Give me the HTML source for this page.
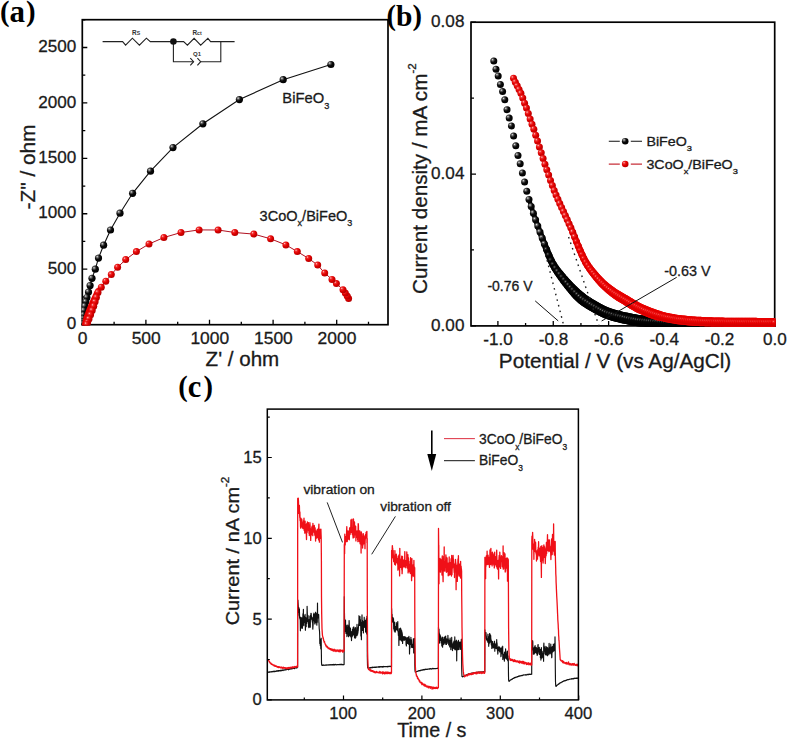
<!DOCTYPE html>
<html><head><meta charset="utf-8"><title>Figure</title>
<style>html,body{margin:0;padding:0;background:#fff;overflow:hidden}svg{display:block}</style>
</head><body>
<svg width="787" height="741" viewBox="0 0 787 741"><defs>
<radialGradient id="gb" cx="0.36" cy="0.34" r="0.7" fx="0.32" fy="0.3">
<stop offset="0" stop-color="#e8e8e8"/><stop offset="0.22" stop-color="#606060"/><stop offset="0.5" stop-color="#0a0a0a"/><stop offset="1" stop-color="#000"/></radialGradient>
<radialGradient id="gr" cx="0.36" cy="0.34" r="0.7" fx="0.32" fy="0.3">
<stop offset="0" stop-color="#ffd0d0"/><stop offset="0.22" stop-color="#f03030"/><stop offset="0.55" stop-color="#e00000"/><stop offset="1" stop-color="#b00000"/></radialGradient>
<radialGradient id="gb2" cx="0.38" cy="0.36" r="0.6" fx="0.34" fy="0.32">
<stop offset="0" stop-color="#8a8a8a"/><stop offset="0.18" stop-color="#303030"/><stop offset="0.45" stop-color="#050505"/><stop offset="1" stop-color="#000"/></radialGradient>
<radialGradient id="gr2" cx="0.38" cy="0.36" r="0.6" fx="0.34" fy="0.32">
<stop offset="0" stop-color="#ff9090"/><stop offset="0.2" stop-color="#f02020"/><stop offset="0.5" stop-color="#e80000"/><stop offset="1" stop-color="#d00000"/></radialGradient>
<clipPath id="ca"><rect x="81.45" y="19.7" width="306.55" height="305.85"/></clipPath>
<clipPath id="cb"><rect x="471" y="22.2" width="304.55000000000007" height="304.55"/></clipPath>
<clipPath id="cc"><rect x="267.3" y="409.1" width="311.09999999999997" height="290.79999999999995"/></clipPath></defs><rect width="787" height="741" fill="#fff"/><rect x="82.3" y="19.7" width="305.7" height="305" fill="none" stroke="#000" stroke-width="1.7"/>
<path d="M82.3 324.6h5M82.3 269.18h5M82.3 213.76h5M82.3 158.34h5M82.3 102.92h5M82.3 47.5h5" stroke="#000" stroke-width="1.3" fill="none"/>
<path d="M82.3 296.89h3M82.3 241.47h3M82.3 186.05h3M82.3 130.63h3M82.3 75.21h3M82.3 19.79h3" stroke="#000" stroke-width="1.3" fill="none"/>
<path d="M82.3 324.7v-5M145.9 324.7v-5M209.5 324.7v-5M273.1 324.7v-5M336.7 324.7v-5" stroke="#000" stroke-width="1.3" fill="none"/>
<path d="M114.1 324.7v-3M177.7 324.7v-3M241.3 324.7v-3M304.9 324.7v-3M368.5 324.7v-3" stroke="#000" stroke-width="1.3" fill="none"/>
<g clip-path="url(#ca)">
<path d="M330.9 64.5 L283.2 79.7 L239.4 99.6 L202.9 123.8 L173 147.6 L150.5 171.2 L132.6 193.3 L120 213.2 L110.5 230 L103.6 245.2 L98.5 258.1 L95.3 269.2 L92 278.3 L90.1 285.6 L88.5 292.1 L86.9 297.5 L85.8 301.8 L84.8 306.2 L84 310.5 L83.3 314.8 L82.9 318.5 L82.6 321.5 L82.5 323.5" fill="none" stroke="#111" stroke-width="1.1"/>
<circle cx="330.9" cy="64.5" r="3.6" fill="url(#gb)"/><circle cx="283.2" cy="79.7" r="3.6" fill="url(#gb)"/><circle cx="239.4" cy="99.6" r="3.6" fill="url(#gb)"/><circle cx="202.9" cy="123.8" r="3.6" fill="url(#gb)"/><circle cx="173" cy="147.6" r="3.6" fill="url(#gb)"/><circle cx="150.5" cy="171.2" r="3.6" fill="url(#gb)"/><circle cx="132.6" cy="193.3" r="3.6" fill="url(#gb)"/><circle cx="120" cy="213.2" r="3.6" fill="url(#gb)"/><circle cx="110.5" cy="230" r="3.6" fill="url(#gb)"/><circle cx="103.6" cy="245.2" r="3.6" fill="url(#gb)"/><circle cx="98.5" cy="258.1" r="3.6" fill="url(#gb)"/><circle cx="95.3" cy="269.2" r="3.6" fill="url(#gb)"/><circle cx="92" cy="278.3" r="3.6" fill="url(#gb)"/><circle cx="90.1" cy="285.6" r="3.6" fill="url(#gb)"/><circle cx="88.5" cy="292.1" r="3.6" fill="url(#gb)"/><circle cx="86.9" cy="297.5" r="3.6" fill="url(#gb)"/><circle cx="85.8" cy="301.8" r="3.6" fill="url(#gb)"/><circle cx="84.8" cy="306.2" r="3.6" fill="url(#gb)"/><circle cx="84" cy="310.5" r="3.6" fill="url(#gb)"/><circle cx="83.3" cy="314.8" r="3.6" fill="url(#gb)"/><circle cx="82.9" cy="318.5" r="3.6" fill="url(#gb)"/><circle cx="82.6" cy="321.5" r="3.6" fill="url(#gb)"/><circle cx="82.5" cy="323.5" r="3.6" fill="url(#gb)"/>
<path d="M98 291L93 301.5L89.3 310L86.5 317.5L84.8 325" stroke="#e80000" stroke-width="6" fill="none" stroke-linecap="round"/>
<path d="M348.6 298.5 L347.2 296 L345.3 293.1 L343 289.7 L336.4 283.6 L332 279.4 L324.7 273.1 L317.7 265.1 L308.7 258.5 L297.3 251.6 L285.9 244.9 L270.6 238.8 L253.8 234.1 L234.8 232.5 L218.1 230 L199.1 229.9 L181 232.5 L163.9 237.5 L149 244 L136.4 251.6 L125.7 259.6 L117.6 267.3 L111.3 274.6 L105.8 281.2 L101.3 287.2 L98 292.5 L96.4 297.4 L95.1 301.8 L93.7 306.2 L92.2 310.5 L90.6 314.8 L89 319 L87.6 322.5 L86.8 324.5" fill="none" stroke="#b01020" stroke-width="1.0"/>
<circle cx="348.6" cy="298.5" r="3.5" fill="url(#gr)"/><circle cx="347.2" cy="296" r="3.5" fill="url(#gr)"/><circle cx="345.3" cy="293.1" r="3.5" fill="url(#gr)"/><circle cx="343" cy="289.7" r="3.5" fill="url(#gr)"/><circle cx="336.4" cy="283.6" r="3.5" fill="url(#gr)"/><circle cx="332" cy="279.4" r="3.5" fill="url(#gr)"/><circle cx="324.7" cy="273.1" r="3.5" fill="url(#gr)"/><circle cx="317.7" cy="265.1" r="3.5" fill="url(#gr)"/><circle cx="308.7" cy="258.5" r="3.5" fill="url(#gr)"/><circle cx="297.3" cy="251.6" r="3.5" fill="url(#gr)"/><circle cx="285.9" cy="244.9" r="3.5" fill="url(#gr)"/><circle cx="270.6" cy="238.8" r="3.5" fill="url(#gr)"/><circle cx="253.8" cy="234.1" r="3.5" fill="url(#gr)"/><circle cx="234.8" cy="232.5" r="3.5" fill="url(#gr)"/><circle cx="218.1" cy="230" r="3.5" fill="url(#gr)"/><circle cx="199.1" cy="229.9" r="3.5" fill="url(#gr)"/><circle cx="181" cy="232.5" r="3.5" fill="url(#gr)"/><circle cx="163.9" cy="237.5" r="3.5" fill="url(#gr)"/><circle cx="149" cy="244" r="3.5" fill="url(#gr)"/><circle cx="136.4" cy="251.6" r="3.5" fill="url(#gr)"/><circle cx="125.7" cy="259.6" r="3.5" fill="url(#gr)"/><circle cx="117.6" cy="267.3" r="3.5" fill="url(#gr)"/><circle cx="111.3" cy="274.6" r="3.5" fill="url(#gr)"/><circle cx="105.8" cy="281.2" r="3.5" fill="url(#gr)"/><circle cx="101.3" cy="287.2" r="3.5" fill="url(#gr)"/><circle cx="98" cy="292.5" r="3.5" fill="url(#gr)"/><circle cx="96.4" cy="297.4" r="3.5" fill="url(#gr)"/><circle cx="95.1" cy="301.8" r="3.5" fill="url(#gr)"/><circle cx="93.7" cy="306.2" r="3.5" fill="url(#gr)"/><circle cx="92.2" cy="310.5" r="3.5" fill="url(#gr)"/><circle cx="90.6" cy="314.8" r="3.5" fill="url(#gr)"/><circle cx="89" cy="319" r="3.5" fill="url(#gr)"/><circle cx="87.6" cy="322.5" r="3.5" fill="url(#gr)"/><circle cx="86.8" cy="324.5" r="3.5" fill="url(#gr)"/>
</g>
<text transform="translate(76.3,329.3) scale(1.0,1)" font-size="17.1" text-anchor="end" style="font-family:'Liberation Sans',sans-serif;font-weight:normal" fill="#1a1a1a" stroke="#1a1a1a" stroke-width="0.3">0</text>
<text transform="translate(76.3,273.88) scale(1.0,1)" font-size="17.1" text-anchor="end" style="font-family:'Liberation Sans',sans-serif;font-weight:normal" fill="#1a1a1a" stroke="#1a1a1a" stroke-width="0.3">500</text>
<text transform="translate(76.3,218.46) scale(1.0,1)" font-size="17.1" text-anchor="end" style="font-family:'Liberation Sans',sans-serif;font-weight:normal" fill="#1a1a1a" stroke="#1a1a1a" stroke-width="0.3">1000</text>
<text transform="translate(76.3,163.04) scale(1.0,1)" font-size="17.1" text-anchor="end" style="font-family:'Liberation Sans',sans-serif;font-weight:normal" fill="#1a1a1a" stroke="#1a1a1a" stroke-width="0.3">1500</text>
<text transform="translate(76.3,107.62) scale(1.0,1)" font-size="17.1" text-anchor="end" style="font-family:'Liberation Sans',sans-serif;font-weight:normal" fill="#1a1a1a" stroke="#1a1a1a" stroke-width="0.3">2000</text>
<text transform="translate(76.3,52.2) scale(1.0,1)" font-size="17.1" text-anchor="end" style="font-family:'Liberation Sans',sans-serif;font-weight:normal" fill="#1a1a1a" stroke="#1a1a1a" stroke-width="0.3">2500</text>
<text transform="translate(82.6,344.3) scale(1.02,1)" font-size="17.1" text-anchor="middle" style="font-family:'Liberation Sans',sans-serif;font-weight:normal" fill="#1a1a1a" stroke="#1a1a1a" stroke-width="0.3">0</text>
<text transform="translate(146.2,344.3) scale(1.02,1)" font-size="17.1" text-anchor="middle" style="font-family:'Liberation Sans',sans-serif;font-weight:normal" fill="#1a1a1a" stroke="#1a1a1a" stroke-width="0.3">500</text>
<text transform="translate(209.8,344.3) scale(1.02,1)" font-size="17.1" text-anchor="middle" style="font-family:'Liberation Sans',sans-serif;font-weight:normal" fill="#1a1a1a" stroke="#1a1a1a" stroke-width="0.3">1000</text>
<text transform="translate(273.4,344.3) scale(1.02,1)" font-size="17.1" text-anchor="middle" style="font-family:'Liberation Sans',sans-serif;font-weight:normal" fill="#1a1a1a" stroke="#1a1a1a" stroke-width="0.3">1500</text>
<text transform="translate(337,344.3) scale(1.02,1)" font-size="17.1" text-anchor="middle" style="font-family:'Liberation Sans',sans-serif;font-weight:normal" fill="#1a1a1a" stroke="#1a1a1a" stroke-width="0.3">2000</text>
<text transform="translate(242.4,365.8) scale(1.05,1)" font-size="19.6" text-anchor="middle" style="font-family:'Liberation Sans',sans-serif;font-weight:normal" fill="#1a1a1a" stroke="#1a1a1a" stroke-width="0.3">Z' / ohm</text>
<text transform="translate(35,167) rotate(-90) scale(1.063,1)" font-size="19.6" text-anchor="middle" style="font-family:'Liberation Sans',sans-serif" fill="#1a1a1a" stroke="#1a1a1a" stroke-width="0.3">-Z" / ohm</text>
<text transform="translate(282.3,103.3) scale(0.985,1)" font-size="15.0" text-anchor="start" style="font-family:'Liberation Sans',sans-serif;font-weight:normal" fill="#1a1a1a" stroke="#1a1a1a" stroke-width="0.3">BiFeO<tspan font-size="9.3" dy="5.5">3</tspan></text>
<text transform="translate(259.6,220.6) scale(0.97,1)" font-size="15.0" text-anchor="start" style="font-family:'Liberation Sans',sans-serif;font-weight:normal" fill="#1a1a1a" stroke="#1a1a1a" stroke-width="0.3">3CoO<tspan font-size="9.3" dy="5.5">x</tspan><tspan dy="-5.5">/BiFeO</tspan><tspan font-size="9.3" dy="5.5">3</tspan></text>
<g stroke="#222" stroke-width="1.1" fill="none">
<path d="M102.6 41.6H122.6L125.6 45.2L132.4 38.2L139.4 45.2L146.4 38.2L150.3 41.6H183.6L187.4 45.2L194.1 38.3L200.7 45.2L207.9 38.3L210.6 41.6H234.6"/>
<path d="M173.4 41.6V61.7H193.6M200.7 61.7H220.8V41.6"/>
<path d="M190.3 58.1L193.6 61.7L190.3 65.4M197.4 58.1L200.7 61.7L197.4 65.4"/>
</g>
<circle cx="173.4" cy="41.5" r="3.3" fill="#111"/>
<text x="132" y="35.3" font-size="6.4" style="font-family:'Liberation Sans',sans-serif;font-weight:bold" fill="#333">R<tspan font-size="5.2">S</tspan></text>
<text x="192.4" y="35.1" font-size="6.4" style="font-family:'Liberation Sans',sans-serif;font-weight:bold" fill="#333">R<tspan font-size="5.2">ct</tspan></text>
<text x="193" y="56.2" font-size="6" style="font-family:'Liberation Sans',sans-serif;font-weight:bold" fill="#333">Q1</text>
<text transform="translate(0,21.5) scale(1.0,1)" font-size="31" text-anchor="start" style="font-family:'Liberation Serif',serif;font-weight:bold" fill="#000"><tspan font-size="28.8" dy="-1">(</tspan><tspan dy="1">a</tspan><tspan font-size="28.8" dy="-1" dx="0.8">)</tspan></text>
<rect x="471" y="22.2" width="303.7" height="303.7" fill="none" stroke="#000" stroke-width="1.7"/>
<path d="M471 325.9h5M471 174.05h5M471 22.2h5" stroke="#000" stroke-width="1.3" fill="none"/>
<path d="M471 249.97h3M471 98.12h3" stroke="#000" stroke-width="1.3" fill="none"/>
<path d="M497.9 325.9v-5M553.26 325.9v-5M608.62 325.9v-5M663.98 325.9v-5M719.34 325.9v-5M774.7 325.9v-5" stroke="#000" stroke-width="1.3" fill="none"/>
<path d="M525.58 325.9v-3M580.94 325.9v-3M636.3 325.9v-3M691.66 325.9v-3M747.02 325.9v-3" stroke="#000" stroke-width="1.3" fill="none"/>
<g clip-path="url(#cb)">
<g stroke="#000" stroke-linecap="round" fill="none"><path d="M529.0 199.4L531.2 206.4" stroke-width="4.3"/><path d="M531.2 206.4L533.4 213.2" stroke-width="4.6"/><path d="M533.4 213.2L535.6 219.8" stroke-width="4.9"/><path d="M535.6 219.8L537.8 226.0" stroke-width="5.2"/><path d="M537.8 226.0L540.0 232.1" stroke-width="5.5"/><path d="M540.0 232.1L542.2 238.1" stroke-width="5.8"/><path d="M542.2 238.1L544.4 244.0" stroke-width="6.1"/><path d="M544.4 244.0L546.6 249.6" stroke-width="6.4"/><path d="M546.6 249.6L548.8 255.1" stroke-width="6.8"/><path d="M548.8 255.1L551.0 260.4" stroke-width="7.1"/><path d="M551.0 260.4L553.2 264.6" stroke-width="7.4"/><path d="M553.2 264.6L555.4 268.2" stroke-width="7.7"/><path d="M555.4 268.2L557.6 271.4" stroke-width="8.0"/><path d="M557.6 271.4L559.8 274.3" stroke-width="8.3"/><path d="M559.8 274.3L562.0 277.2" stroke-width="8.6"/><path d="M562.0 277.2L564.2 280.0" stroke-width="8.9"/><path d="M564.2 280.0L566.4 282.7" stroke-width="9.2"/><path d="M566.4 282.7L568.6 285.2" stroke-width="9.5"/><path d="M568.6 285.2L570.8 287.7" stroke-width="9.8"/><path d="M570.8 287.7L573.0 290.1" stroke-width="10.1"/><path d="M573.0 290.1L575.2 292.4" stroke-width="10.5"/><path d="M575.2 292.4L577.4 294.7" stroke-width="10.8"/><path d="M577.4 294.7L579.6 296.7" stroke-width="11.1"/><path d="M579.6 296.7L581.8 298.5" stroke-width="11.4"/><path d="M581.8 298.5L584.0 300.2" stroke-width="11.5"/><path d="M584.0 300.2L586.2 301.7" stroke-width="11.5"/><path d="M586.2 301.7L588.4 303.1" stroke-width="11.5"/><path d="M588.4 303.1L590.6 304.5" stroke-width="11.5"/><path d="M590.6 304.5L592.8 305.8" stroke-width="11.5"/><path d="M592.8 305.8L595.0 307.0" stroke-width="11.5"/><path d="M595.0 307.0L597.2 308.3" stroke-width="11.5"/><path d="M597.2 308.3L599.4 309.5" stroke-width="11.5"/><path d="M599.4 309.5L601.6 310.6" stroke-width="11.5"/><path d="M601.6 310.6L603.8 311.7" stroke-width="11.5"/><path d="M603.8 311.7L606.0 312.7" stroke-width="11.5"/><path d="M606.0 312.7L608.2 313.5" stroke-width="11.5"/><path d="M608.2 313.5L610.4 314.2" stroke-width="11.5"/><path d="M610.4 314.2L612.6 314.9" stroke-width="11.5"/><path d="M612.6 314.9L614.8 315.6" stroke-width="11.5"/><path d="M614.8 315.6L617.0 316.2" stroke-width="11.5"/><path d="M617.0 316.2L619.2 316.7" stroke-width="11.5"/><path d="M619.2 316.7L621.4 317.3" stroke-width="11.5"/><path d="M621.4 317.3L623.6 317.8" stroke-width="11.5"/><path d="M623.6 317.8L625.8 318.2" stroke-width="11.5"/><path d="M625.8 318.2L628.0 318.7" stroke-width="11.5"/><path d="M628.0 318.7L630.2 319.2" stroke-width="11.5"/><path d="M630.2 319.2L632.4 319.6" stroke-width="11.5"/><path d="M632.4 319.6L634.6 320.0" stroke-width="11.5"/><path d="M634.6 320.0L636.8 320.4" stroke-width="11.5"/><path d="M636.8 320.4L639.0 320.7" stroke-width="11.5"/><path d="M639.0 320.7L641.2 320.9" stroke-width="11.5"/><path d="M641.2 320.9L643.4 321.1" stroke-width="11.5"/><path d="M643.4 321.1L645.6 321.3" stroke-width="11.5"/><path d="M645.6 321.3L647.8 321.5" stroke-width="11.5"/><path d="M647.8 321.5L650.0 321.6" stroke-width="11.5"/><path d="M650.0 321.6L652.2 321.7" stroke-width="11.5"/><path d="M652.2 321.7L654.4 321.8" stroke-width="11.5"/><path d="M654.4 321.8L656.6 322.0" stroke-width="11.5"/><path d="M656.6 322.0L658.8 322.1" stroke-width="11.5"/><path d="M658.8 322.1L661.0 322.2" stroke-width="11.5"/><path d="M661.0 322.2L663.2 322.4" stroke-width="11.5"/><path d="M663.2 322.4L665.4 322.5" stroke-width="11.5"/><path d="M665.4 322.5L667.6 322.7" stroke-width="11.5"/><path d="M667.6 322.7L669.8 322.9" stroke-width="11.5"/><path d="M669.8 322.9L672.0 323.0" stroke-width="11.5"/><path d="M672.0 323.0L674.2 323.2" stroke-width="11.5"/><path d="M674.2 323.2L676.4 323.3" stroke-width="11.5"/><path d="M676.4 323.3L678.6 323.4" stroke-width="11.5"/><path d="M678.6 323.4L680.8 323.5" stroke-width="11.5"/><path d="M680.8 323.5L683.0 323.6" stroke-width="11.5"/><path d="M683.0 323.6L685.2 323.7" stroke-width="11.5"/><path d="M685.2 323.7L687.4 323.8" stroke-width="11.5"/><path d="M687.4 323.8L689.6 323.9" stroke-width="11.5"/><path d="M689.6 323.9L691.8 323.9" stroke-width="11.5"/><path d="M691.8 323.9L694.0 324.0" stroke-width="11.3"/><path d="M694.0 324.0L696.2 324.1" stroke-width="11.2"/><path d="M696.2 324.1L698.4 324.1" stroke-width="11.1"/><path d="M698.4 324.1L700.6 324.2" stroke-width="10.9"/><path d="M700.6 324.2L702.8 324.2" stroke-width="10.8"/><path d="M702.8 324.2L705.0 324.3" stroke-width="10.7"/><path d="M705.0 324.3L707.2 324.3" stroke-width="10.5"/><path d="M707.2 324.3L709.4 324.4" stroke-width="10.4"/><path d="M709.4 324.4L711.6 324.4" stroke-width="10.3"/><path d="M711.6 324.4L713.8 324.5" stroke-width="10.1"/><path d="M713.8 324.5L716.0 324.5" stroke-width="10.0"/><path d="M716.0 324.5L718.2 324.6" stroke-width="9.9"/><path d="M718.2 324.6L720.4 324.6" stroke-width="9.7"/><path d="M720.4 324.6L722.6 324.7" stroke-width="9.6"/><path d="M722.6 324.7L724.8 324.7" stroke-width="9.5"/><path d="M724.8 324.7L727.0 324.7" stroke-width="9.3"/><path d="M727.0 324.7L729.2 324.8" stroke-width="9.2"/><path d="M729.2 324.8L731.4 324.8" stroke-width="9.1"/><path d="M731.4 324.8L733.6 324.9" stroke-width="9.0"/><path d="M733.6 324.9L735.8 324.9" stroke-width="8.8"/><path d="M735.8 324.9L738.0 324.9" stroke-width="8.7"/><path d="M738.0 324.9L740.2 325.0" stroke-width="8.6"/><path d="M740.2 325.0L742.4 325.0" stroke-width="8.5"/><path d="M742.4 325.0L744.6 325.0" stroke-width="8.5"/><path d="M744.6 325.0L746.8 325.1" stroke-width="8.5"/><path d="M746.8 325.1L749.0 325.1" stroke-width="8.5"/><path d="M749.0 325.1L751.2 325.1" stroke-width="8.5"/><path d="M751.2 325.1L753.4 325.2" stroke-width="8.5"/><path d="M753.4 325.2L755.6 325.2" stroke-width="8.5"/><path d="M755.6 325.2L757.8 325.2" stroke-width="8.5"/><path d="M757.8 325.2L760.0 325.3" stroke-width="8.5"/><path d="M760.0 325.3L762.2 325.3" stroke-width="8.5"/><path d="M762.2 325.3L764.4 325.3" stroke-width="8.5"/><path d="M764.4 325.3L766.6 325.3" stroke-width="8.5"/><path d="M766.6 325.3L768.8 325.4" stroke-width="8.5"/><path d="M768.8 325.4L771.0 325.4" stroke-width="8.5"/><path d="M771.0 325.4L773.2 325.4" stroke-width="8.5"/></g>
<circle cx="493.8" cy="61.1" r="3.5" fill="url(#gb)"/><circle cx="496" cy="69.26" r="3.5" fill="url(#gb)"/><circle cx="498.2" cy="75.9" r="3.5" fill="url(#gb)"/><circle cx="500.4" cy="84.5" r="3.5" fill="url(#gb)"/><circle cx="502.6" cy="91.55" r="3.5" fill="url(#gb)"/><circle cx="504.8" cy="99.79" r="3.5" fill="url(#gb)"/><circle cx="507" cy="109.71" r="3.5" fill="url(#gb)"/><circle cx="509.2" cy="118.03" r="3.5" fill="url(#gb)"/><circle cx="511.4" cy="125.91" r="3.5" fill="url(#gb)"/><circle cx="513.6" cy="136.07" r="3.5" fill="url(#gb)"/><circle cx="515.8" cy="145.82" r="3.5" fill="url(#gb)"/><circle cx="518" cy="155.6" r="3.5" fill="url(#gb)"/><circle cx="520.2" cy="163.74" r="3.5" fill="url(#gb)"/><circle cx="522.4" cy="172.98" r="3.5" fill="url(#gb)"/><circle cx="524.6" cy="182.07" r="3.5" fill="url(#gb)"/><circle cx="526.8" cy="191.3" r="3.5" fill="url(#gb)"/><circle cx="529" cy="199.44" r="3.5" fill="url(#gb)"/><circle cx="531.2" cy="206.39" r="3.5" fill="url(#gb)"/><circle cx="533.4" cy="213.2" r="3.5" fill="url(#gb)"/><circle cx="535.6" cy="219.77" r="3.5" fill="url(#gb)"/><circle cx="537.8" cy="226.02" r="3.5" fill="url(#gb)"/><circle cx="540" cy="232.08" r="3.5" fill="url(#gb)"/><circle cx="542.2" cy="238.08" r="3.5" fill="url(#gb)"/><circle cx="544.4" cy="243.97" r="3.5" fill="url(#gb)"/>
<circle cx="546.6" cy="249.6" r="3.5" fill="url(#gb2)"/><circle cx="548.8" cy="255.15" r="3.5" fill="url(#gb2)"/><circle cx="551" cy="260.36" r="3.5" fill="url(#gb2)"/><circle cx="553.2" cy="264.65" r="3.5" fill="url(#gb2)"/><circle cx="555.4" cy="268.21" r="3.5" fill="url(#gb2)"/><circle cx="557.6" cy="271.36" r="3.5" fill="url(#gb2)"/><circle cx="559.8" cy="274.3" r="3.5" fill="url(#gb2)"/><circle cx="562" cy="277.21" r="3.5" fill="url(#gb2)"/><circle cx="564.2" cy="280" r="3.5" fill="url(#gb2)"/><circle cx="566.4" cy="282.68" r="3.5" fill="url(#gb2)"/><circle cx="568.6" cy="285.24" r="3.5" fill="url(#gb2)"/><circle cx="570.8" cy="287.7" r="3.5" fill="url(#gb2)"/><circle cx="573" cy="290.1" r="3.5" fill="url(#gb2)"/><circle cx="575.2" cy="292.45" r="3.5" fill="url(#gb2)"/><circle cx="577.4" cy="294.67" r="3.5" fill="url(#gb2)"/><circle cx="579.6" cy="296.72" r="3.5" fill="url(#gb2)"/><circle cx="581.8" cy="298.53" r="3.5" fill="url(#gb2)"/><circle cx="584" cy="300.18" r="3.5" fill="url(#gb2)"/><circle cx="586.2" cy="301.7" r="3.5" fill="url(#gb2)"/><circle cx="588.4" cy="303.13" r="3.5" fill="url(#gb2)"/><circle cx="590.6" cy="304.47" r="3.5" fill="url(#gb2)"/><circle cx="592.8" cy="305.77" r="3.5" fill="url(#gb2)"/><circle cx="595" cy="307.04" r="3.5" fill="url(#gb2)"/><circle cx="597.2" cy="308.28" r="3.5" fill="url(#gb2)"/><circle cx="599.4" cy="309.49" r="3.5" fill="url(#gb2)"/><circle cx="601.6" cy="310.64" r="3.5" fill="url(#gb2)"/><circle cx="603.8" cy="311.7" r="3.5" fill="url(#gb2)"/><circle cx="606" cy="312.66" r="3.5" fill="url(#gb2)"/><circle cx="608.2" cy="313.49" r="3.5" fill="url(#gb2)"/><circle cx="610.4" cy="314.25" r="3.5" fill="url(#gb2)"/><circle cx="612.6" cy="314.94" r="3.5" fill="url(#gb2)"/><circle cx="614.8" cy="315.59" r="3.5" fill="url(#gb2)"/><circle cx="617" cy="316.18" r="3.5" fill="url(#gb2)"/><circle cx="619.2" cy="316.74" r="3.5" fill="url(#gb2)"/><circle cx="621.4" cy="317.25" r="3.5" fill="url(#gb2)"/><circle cx="623.6" cy="317.75" r="3.5" fill="url(#gb2)"/><circle cx="625.8" cy="318.24" r="3.5" fill="url(#gb2)"/><circle cx="628" cy="318.71" r="3.5" fill="url(#gb2)"/><circle cx="630.2" cy="319.17" r="3.5" fill="url(#gb2)"/><circle cx="632.4" cy="319.6" r="3.5" fill="url(#gb2)"/><circle cx="634.6" cy="319.99" r="3.5" fill="url(#gb2)"/><circle cx="636.8" cy="320.35" r="3.5" fill="url(#gb2)"/><circle cx="639" cy="320.66" r="3.5" fill="url(#gb2)"/><circle cx="641.2" cy="320.92" r="3.5" fill="url(#gb2)"/><circle cx="643.4" cy="321.13" r="3.5" fill="url(#gb2)"/><circle cx="645.6" cy="321.3" r="3.5" fill="url(#gb2)"/><circle cx="647.8" cy="321.46" r="3.5" fill="url(#gb2)"/><circle cx="650" cy="321.6" r="3.5" fill="url(#gb2)"/><circle cx="652.2" cy="321.73" r="3.5" fill="url(#gb2)"/><circle cx="654.4" cy="321.85" r="3.5" fill="url(#gb2)"/><circle cx="656.6" cy="321.96" r="3.5" fill="url(#gb2)"/><circle cx="658.8" cy="322.09" r="3.5" fill="url(#gb2)"/><circle cx="661" cy="322.22" r="3.5" fill="url(#gb2)"/><circle cx="663.2" cy="322.36" r="3.5" fill="url(#gb2)"/><circle cx="665.4" cy="322.52" r="3.5" fill="url(#gb2)"/><circle cx="667.6" cy="322.68" r="3.5" fill="url(#gb2)"/><circle cx="669.8" cy="322.85" r="3.5" fill="url(#gb2)"/><circle cx="672" cy="323.02" r="3.5" fill="url(#gb2)"/><circle cx="674.2" cy="323.17" r="3.5" fill="url(#gb2)"/><circle cx="676.4" cy="323.32" r="3.5" fill="url(#gb2)"/><circle cx="678.6" cy="323.44" r="3.5" fill="url(#gb2)"/><circle cx="680.8" cy="323.53" r="3.5" fill="url(#gb2)"/><circle cx="683" cy="323.62" r="3.5" fill="url(#gb2)"/><circle cx="685.2" cy="323.7" r="3.5" fill="url(#gb2)"/><circle cx="687.4" cy="323.78" r="3.5" fill="url(#gb2)"/><circle cx="689.6" cy="323.86" r="3.5" fill="url(#gb2)"/><circle cx="691.8" cy="323.93" r="3.5" fill="url(#gb2)"/><circle cx="694" cy="323.99" r="3.5" fill="url(#gb2)"/><circle cx="696.2" cy="324.06" r="3.5" fill="url(#gb2)"/><circle cx="698.4" cy="324.12" r="3.5" fill="url(#gb2)"/><circle cx="700.6" cy="324.18" r="3.5" fill="url(#gb2)"/><circle cx="702.8" cy="324.23" r="3.5" fill="url(#gb2)"/><circle cx="705" cy="324.28" r="3.5" fill="url(#gb2)"/><circle cx="707.2" cy="324.33" r="3.5" fill="url(#gb2)"/><circle cx="709.4" cy="324.38" r="3.5" fill="url(#gb2)"/><circle cx="711.6" cy="324.43" r="3.5" fill="url(#gb2)"/><circle cx="713.8" cy="324.48" r="3.5" fill="url(#gb2)"/><circle cx="716" cy="324.52" r="3.5" fill="url(#gb2)"/><circle cx="718.2" cy="324.56" r="3.5" fill="url(#gb2)"/><circle cx="720.4" cy="324.61" r="3.5" fill="url(#gb2)"/><circle cx="722.6" cy="324.65" r="3.5" fill="url(#gb2)"/><circle cx="724.8" cy="324.69" r="3.5" fill="url(#gb2)"/><circle cx="727" cy="324.73" r="3.5" fill="url(#gb2)"/><circle cx="729.2" cy="324.77" r="3.5" fill="url(#gb2)"/><circle cx="731.4" cy="324.81" r="3.5" fill="url(#gb2)"/><circle cx="733.6" cy="324.85" r="3.5" fill="url(#gb2)"/><circle cx="735.8" cy="324.89" r="3.5" fill="url(#gb2)"/><circle cx="738" cy="324.93" r="3.5" fill="url(#gb2)"/><circle cx="740.2" cy="324.97" r="3.5" fill="url(#gb2)"/><circle cx="742.4" cy="325.01" r="3.5" fill="url(#gb2)"/><circle cx="744.6" cy="325.04" r="3.5" fill="url(#gb2)"/><circle cx="746.8" cy="325.08" r="3.5" fill="url(#gb2)"/><circle cx="749" cy="325.11" r="3.5" fill="url(#gb2)"/><circle cx="751.2" cy="325.14" r="3.5" fill="url(#gb2)"/><circle cx="753.4" cy="325.17" r="3.5" fill="url(#gb2)"/><circle cx="755.6" cy="325.2" r="3.5" fill="url(#gb2)"/><circle cx="757.8" cy="325.23" r="3.5" fill="url(#gb2)"/><circle cx="760" cy="325.26" r="3.5" fill="url(#gb2)"/><circle cx="762.2" cy="325.28" r="3.5" fill="url(#gb2)"/><circle cx="764.4" cy="325.31" r="3.5" fill="url(#gb2)"/><circle cx="766.6" cy="325.33" r="3.5" fill="url(#gb2)"/><circle cx="768.8" cy="325.35" r="3.5" fill="url(#gb2)"/><circle cx="771" cy="325.37" r="3.5" fill="url(#gb2)"/><circle cx="773.2" cy="325.39" r="3.5" fill="url(#gb2)"/>
<g stroke="#e80000" stroke-linecap="round" fill="none"><path d="M552.4 185.6L554.2 190.4" stroke-width="4.6"/><path d="M554.2 190.4L556.1 194.9" stroke-width="4.8"/><path d="M556.1 194.9L557.9 199.2" stroke-width="4.9"/><path d="M557.9 199.2L559.8 203.4" stroke-width="5.0"/><path d="M559.8 203.4L561.6 207.5" stroke-width="5.2"/><path d="M561.6 207.5L563.5 211.5" stroke-width="5.3"/><path d="M563.5 211.5L565.3 215.5" stroke-width="5.5"/><path d="M565.3 215.5L567.2 219.6" stroke-width="5.6"/><path d="M567.2 219.6L569.0 223.6" stroke-width="5.8"/><path d="M569.0 223.6L570.9 227.8" stroke-width="5.9"/><path d="M570.9 227.8L572.7 232.2" stroke-width="6.1"/><path d="M572.7 232.2L574.6 236.8" stroke-width="6.2"/><path d="M574.6 236.8L576.4 241.6" stroke-width="6.4"/><path d="M576.4 241.6L578.3 246.1" stroke-width="6.5"/><path d="M578.3 246.1L580.1 250.4" stroke-width="6.7"/><path d="M580.1 250.4L582.0 254.6" stroke-width="6.8"/><path d="M582.0 254.6L583.8 258.6" stroke-width="7.0"/><path d="M583.8 258.6L585.7 262.1" stroke-width="7.1"/><path d="M585.7 262.1L587.5 265.2" stroke-width="7.3"/><path d="M587.5 265.2L589.4 267.9" stroke-width="7.4"/><path d="M589.4 267.9L591.2 270.4" stroke-width="7.6"/><path d="M591.2 270.4L593.1 272.8" stroke-width="7.7"/><path d="M593.1 272.8L594.9 275.0" stroke-width="7.9"/><path d="M594.9 275.0L596.8 277.3" stroke-width="8.0"/><path d="M596.8 277.3L598.6 279.4" stroke-width="8.2"/><path d="M598.6 279.4L600.5 281.4" stroke-width="8.3"/><path d="M600.5 281.4L602.3 283.3" stroke-width="8.5"/><path d="M602.3 283.3L604.2 285.1" stroke-width="8.6"/><path d="M604.2 285.1L606.0 286.7" stroke-width="8.7"/><path d="M606.0 286.7L607.9 288.3" stroke-width="8.9"/><path d="M607.9 288.3L609.7 289.8" stroke-width="9.0"/><path d="M609.7 289.8L611.6 291.2" stroke-width="9.2"/><path d="M611.6 291.2L613.4 292.6" stroke-width="9.3"/><path d="M613.4 292.6L615.3 293.9" stroke-width="9.5"/><path d="M615.3 293.9L617.1 295.1" stroke-width="9.6"/><path d="M617.1 295.1L619.0 296.3" stroke-width="9.8"/><path d="M619.0 296.3L620.8 297.4" stroke-width="9.9"/><path d="M620.8 297.4L622.7 298.5" stroke-width="10.0"/><path d="M622.7 298.5L624.5 299.5" stroke-width="10.0"/><path d="M624.5 299.5L626.4 300.6" stroke-width="10.0"/><path d="M626.4 300.6L628.2 301.8" stroke-width="10.0"/><path d="M628.2 301.8L630.1 302.9" stroke-width="10.0"/><path d="M630.1 302.9L631.9 304.1" stroke-width="10.0"/><path d="M631.9 304.1L633.8 305.2" stroke-width="10.0"/><path d="M633.8 305.2L635.6 306.2" stroke-width="10.0"/><path d="M635.6 306.2L637.5 307.3" stroke-width="10.0"/><path d="M637.5 307.3L639.3 308.2" stroke-width="10.0"/><path d="M639.3 308.2L641.2 309.0" stroke-width="10.0"/><path d="M641.2 309.0L643.0 309.8" stroke-width="10.0"/><path d="M643.0 309.8L644.9 310.6" stroke-width="10.0"/><path d="M644.9 310.6L646.7 311.4" stroke-width="10.0"/><path d="M646.7 311.4L648.6 312.1" stroke-width="10.0"/><path d="M648.6 312.1L650.4 312.9" stroke-width="10.0"/><path d="M650.4 312.9L652.3 313.5" stroke-width="10.0"/><path d="M652.3 313.5L654.1 314.2" stroke-width="10.0"/><path d="M654.1 314.2L656.0 314.8" stroke-width="10.0"/><path d="M656.0 314.8L657.8 315.4" stroke-width="10.0"/><path d="M657.8 315.4L659.7 315.9" stroke-width="10.0"/><path d="M659.7 315.9L661.5 316.4" stroke-width="9.3"/><path d="M661.5 316.4L663.4 316.8" stroke-width="9.3"/><path d="M663.4 316.8L665.2 317.2" stroke-width="9.3"/><path d="M665.2 317.2L667.1 317.6" stroke-width="9.3"/><path d="M667.1 317.6L668.9 318.0" stroke-width="9.3"/><path d="M668.9 318.0L670.8 318.4" stroke-width="9.3"/><path d="M670.8 318.4L672.6 318.7" stroke-width="9.3"/><path d="M672.6 318.7L674.5 319.0" stroke-width="9.3"/><path d="M674.5 319.0L676.3 319.3" stroke-width="9.3"/><path d="M676.3 319.3L678.2 319.6" stroke-width="9.3"/><path d="M678.2 319.6L680.0 319.8" stroke-width="9.3"/><path d="M680.0 319.8L681.9 320.0" stroke-width="9.3"/><path d="M681.9 320.0L683.7 320.2" stroke-width="9.3"/><path d="M683.7 320.2L685.6 320.4" stroke-width="9.3"/><path d="M685.6 320.4L687.4 320.6" stroke-width="9.3"/><path d="M687.4 320.6L689.3 320.8" stroke-width="9.3"/><path d="M689.3 320.8L691.1 320.9" stroke-width="9.3"/><path d="M691.1 320.9L693.0 321.1" stroke-width="9.3"/><path d="M693.0 321.1L694.8 321.2" stroke-width="9.3"/><path d="M694.8 321.2L696.7 321.3" stroke-width="9.3"/><path d="M696.7 321.3L698.5 321.4" stroke-width="9.3"/><path d="M698.5 321.4L700.4 321.5" stroke-width="9.3"/><path d="M700.4 321.5L702.2 321.6" stroke-width="9.3"/><path d="M702.2 321.6L704.1 321.7" stroke-width="9.3"/><path d="M704.1 321.7L705.9 321.8" stroke-width="9.3"/><path d="M705.9 321.8L707.8 321.9" stroke-width="9.3"/><path d="M707.8 321.9L709.6 321.9" stroke-width="9.3"/><path d="M709.6 321.9L711.5 322.0" stroke-width="9.3"/><path d="M711.5 322.0L713.3 322.1" stroke-width="9.3"/><path d="M713.3 322.1L715.2 322.1" stroke-width="9.3"/><path d="M715.2 322.1L717.0 322.1" stroke-width="9.3"/><path d="M717.0 322.1L718.9 322.2" stroke-width="9.3"/><path d="M718.9 322.2L720.7 322.2" stroke-width="9.3"/><path d="M720.7 322.2L722.6 322.2" stroke-width="9.3"/><path d="M722.6 322.2L724.4 322.3" stroke-width="9.3"/><path d="M724.4 322.3L726.3 322.3" stroke-width="9.3"/><path d="M726.3 322.3L728.1 322.3" stroke-width="9.3"/><path d="M728.1 322.3L730.0 322.3" stroke-width="9.3"/><path d="M730.0 322.3L731.8 322.3" stroke-width="9.3"/><path d="M731.8 322.3L733.7 322.4" stroke-width="9.3"/><path d="M733.7 322.4L735.5 322.4" stroke-width="9.3"/><path d="M735.5 322.4L737.4 322.4" stroke-width="9.3"/><path d="M737.4 322.4L739.2 322.4" stroke-width="9.3"/><path d="M739.2 322.4L741.1 322.4" stroke-width="9.3"/><path d="M741.1 322.4L742.9 322.5" stroke-width="9.3"/><path d="M742.9 322.5L744.8 322.5" stroke-width="9.3"/><path d="M744.8 322.5L746.6 322.5" stroke-width="9.3"/><path d="M746.6 322.5L748.5 322.5" stroke-width="9.3"/><path d="M748.5 322.5L750.3 322.5" stroke-width="9.3"/><path d="M750.3 322.5L752.2 322.5" stroke-width="9.3"/><path d="M752.2 322.5L754.0 322.5" stroke-width="9.3"/><path d="M754.0 322.5L755.9 322.5" stroke-width="9.3"/><path d="M755.9 322.5L757.7 322.6" stroke-width="9.3"/><path d="M757.7 322.6L759.6 322.6" stroke-width="9.3"/><path d="M759.6 322.6L761.4 322.6" stroke-width="9.3"/><path d="M761.4 322.6L763.3 322.6" stroke-width="9.3"/><path d="M763.3 322.6L765.1 322.6" stroke-width="9.3"/><path d="M765.1 322.6L767.0 322.6" stroke-width="9.3"/><path d="M767.0 322.6L768.8 322.6" stroke-width="9.3"/><path d="M768.8 322.6L770.7 322.6" stroke-width="9.3"/><path d="M770.7 322.6L772.5 322.6" stroke-width="9.3"/><path d="M772.5 322.6L774.4 322.6" stroke-width="9.3"/></g>
<circle cx="513.5" cy="78.3" r="3.5" fill="url(#gr)"/><circle cx="515.35" cy="82.19" r="3.5" fill="url(#gr)"/><circle cx="517.2" cy="85.83" r="3.5" fill="url(#gr)"/><circle cx="519.05" cy="89.43" r="3.5" fill="url(#gr)"/><circle cx="520.9" cy="93.35" r="3.5" fill="url(#gr)"/><circle cx="522.75" cy="97.93" r="3.5" fill="url(#gr)"/><circle cx="524.6" cy="103.15" r="3.5" fill="url(#gr)"/><circle cx="526.45" cy="108.08" r="3.5" fill="url(#gr)"/><circle cx="528.3" cy="113.48" r="3.5" fill="url(#gr)"/><circle cx="530.15" cy="119.05" r="3.5" fill="url(#gr)"/><circle cx="532" cy="124.25" r="3.5" fill="url(#gr)"/><circle cx="533.85" cy="129.14" r="3.5" fill="url(#gr)"/><circle cx="535.7" cy="135.18" r="3.5" fill="url(#gr)"/><circle cx="537.55" cy="141.06" r="3.5" fill="url(#gr)"/><circle cx="539.4" cy="146.88" r="3.5" fill="url(#gr)"/><circle cx="541.25" cy="152.72" r="3.5" fill="url(#gr)"/><circle cx="543.1" cy="158.57" r="3.5" fill="url(#gr)"/><circle cx="544.95" cy="164.26" r="3.5" fill="url(#gr)"/><circle cx="546.8" cy="169.76" r="3.5" fill="url(#gr)"/><circle cx="548.65" cy="175.12" r="3.5" fill="url(#gr)"/><circle cx="550.5" cy="180.39" r="3.5" fill="url(#gr)"/><circle cx="552.35" cy="185.56" r="3.5" fill="url(#gr)"/><circle cx="554.2" cy="190.42" r="3.5" fill="url(#gr)"/><circle cx="556.05" cy="194.93" r="3.5" fill="url(#gr)"/><circle cx="557.9" cy="199.24" r="3.5" fill="url(#gr)"/><circle cx="559.75" cy="203.44" r="3.5" fill="url(#gr)"/><circle cx="561.6" cy="207.49" r="3.5" fill="url(#gr)"/><circle cx="563.45" cy="211.47" r="3.5" fill="url(#gr)"/><circle cx="565.3" cy="215.5" r="3.5" fill="url(#gr)"/><circle cx="567.15" cy="219.56" r="3.5" fill="url(#gr)"/><circle cx="569" cy="223.63" r="3.5" fill="url(#gr)"/><circle cx="570.85" cy="227.79" r="3.5" fill="url(#gr)"/><circle cx="572.7" cy="232.17" r="3.5" fill="url(#gr)"/><circle cx="574.55" cy="236.84" r="3.5" fill="url(#gr)"/>
<circle cx="576.4" cy="241.58" r="3.5" fill="url(#gr2)"/><circle cx="578.25" cy="246.08" r="3.5" fill="url(#gr2)"/><circle cx="580.1" cy="250.4" r="3.5" fill="url(#gr2)"/><circle cx="581.95" cy="254.64" r="3.5" fill="url(#gr2)"/><circle cx="583.8" cy="258.62" r="3.5" fill="url(#gr2)"/><circle cx="585.65" cy="262.14" r="3.5" fill="url(#gr2)"/><circle cx="587.5" cy="265.17" r="3.5" fill="url(#gr2)"/><circle cx="589.35" cy="267.89" r="3.5" fill="url(#gr2)"/><circle cx="591.2" cy="270.4" r="3.5" fill="url(#gr2)"/><circle cx="593.05" cy="272.76" r="3.5" fill="url(#gr2)"/><circle cx="594.9" cy="275.05" r="3.5" fill="url(#gr2)"/><circle cx="596.75" cy="277.26" r="3.5" fill="url(#gr2)"/><circle cx="598.6" cy="279.37" r="3.5" fill="url(#gr2)"/><circle cx="600.45" cy="281.38" r="3.5" fill="url(#gr2)"/><circle cx="602.3" cy="283.28" r="3.5" fill="url(#gr2)"/><circle cx="604.15" cy="285.05" r="3.5" fill="url(#gr2)"/><circle cx="606" cy="286.72" r="3.5" fill="url(#gr2)"/><circle cx="607.85" cy="288.3" r="3.5" fill="url(#gr2)"/><circle cx="609.7" cy="289.79" r="3.5" fill="url(#gr2)"/><circle cx="611.55" cy="291.21" r="3.5" fill="url(#gr2)"/><circle cx="613.4" cy="292.57" r="3.5" fill="url(#gr2)"/><circle cx="615.25" cy="293.87" r="3.5" fill="url(#gr2)"/><circle cx="617.1" cy="295.1" r="3.5" fill="url(#gr2)"/><circle cx="618.95" cy="296.26" r="3.5" fill="url(#gr2)"/><circle cx="620.8" cy="297.38" r="3.5" fill="url(#gr2)"/><circle cx="622.65" cy="298.47" r="3.5" fill="url(#gr2)"/><circle cx="624.5" cy="299.55" r="3.5" fill="url(#gr2)"/><circle cx="626.35" cy="300.65" r="3.5" fill="url(#gr2)"/><circle cx="628.2" cy="301.78" r="3.5" fill="url(#gr2)"/><circle cx="630.05" cy="302.92" r="3.5" fill="url(#gr2)"/><circle cx="631.9" cy="304.06" r="3.5" fill="url(#gr2)"/><circle cx="633.75" cy="305.17" r="3.5" fill="url(#gr2)"/><circle cx="635.6" cy="306.24" r="3.5" fill="url(#gr2)"/><circle cx="637.45" cy="307.25" r="3.5" fill="url(#gr2)"/><circle cx="639.3" cy="308.18" r="3.5" fill="url(#gr2)"/><circle cx="641.15" cy="309.02" r="3.5" fill="url(#gr2)"/><circle cx="643" cy="309.83" r="3.5" fill="url(#gr2)"/><circle cx="644.85" cy="310.63" r="3.5" fill="url(#gr2)"/><circle cx="646.7" cy="311.4" r="3.5" fill="url(#gr2)"/><circle cx="648.55" cy="312.14" r="3.5" fill="url(#gr2)"/><circle cx="650.4" cy="312.86" r="3.5" fill="url(#gr2)"/><circle cx="652.25" cy="313.54" r="3.5" fill="url(#gr2)"/><circle cx="654.1" cy="314.19" r="3.5" fill="url(#gr2)"/><circle cx="655.95" cy="314.8" r="3.5" fill="url(#gr2)"/><circle cx="657.8" cy="315.37" r="3.5" fill="url(#gr2)"/><circle cx="659.65" cy="315.9" r="3.5" fill="url(#gr2)"/><circle cx="661.5" cy="316.38" r="3.5" fill="url(#gr2)"/><circle cx="663.35" cy="316.82" r="3.5" fill="url(#gr2)"/><circle cx="665.2" cy="317.24" r="3.5" fill="url(#gr2)"/><circle cx="667.05" cy="317.64" r="3.5" fill="url(#gr2)"/><circle cx="668.9" cy="318.02" r="3.5" fill="url(#gr2)"/><circle cx="670.75" cy="318.38" r="3.5" fill="url(#gr2)"/><circle cx="672.6" cy="318.72" r="3.5" fill="url(#gr2)"/><circle cx="674.45" cy="319.03" r="3.5" fill="url(#gr2)"/><circle cx="676.3" cy="319.31" r="3.5" fill="url(#gr2)"/><circle cx="678.15" cy="319.57" r="3.5" fill="url(#gr2)"/><circle cx="680" cy="319.8" r="3.5" fill="url(#gr2)"/><circle cx="681.85" cy="320.01" r="3.5" fill="url(#gr2)"/><circle cx="683.7" cy="320.21" r="3.5" fill="url(#gr2)"/><circle cx="685.55" cy="320.4" r="3.5" fill="url(#gr2)"/><circle cx="687.4" cy="320.58" r="3.5" fill="url(#gr2)"/><circle cx="689.25" cy="320.75" r="3.5" fill="url(#gr2)"/><circle cx="691.1" cy="320.91" r="3.5" fill="url(#gr2)"/><circle cx="692.95" cy="321.06" r="3.5" fill="url(#gr2)"/><circle cx="694.8" cy="321.19" r="3.5" fill="url(#gr2)"/><circle cx="696.65" cy="321.31" r="3.5" fill="url(#gr2)"/><circle cx="698.5" cy="321.42" r="3.5" fill="url(#gr2)"/><circle cx="700.35" cy="321.52" r="3.5" fill="url(#gr2)"/><circle cx="702.2" cy="321.61" r="3.5" fill="url(#gr2)"/><circle cx="704.05" cy="321.69" r="3.5" fill="url(#gr2)"/><circle cx="705.9" cy="321.78" r="3.5" fill="url(#gr2)"/><circle cx="707.75" cy="321.85" r="3.5" fill="url(#gr2)"/><circle cx="709.6" cy="321.93" r="3.5" fill="url(#gr2)"/><circle cx="711.45" cy="321.99" r="3.5" fill="url(#gr2)"/><circle cx="713.3" cy="322.05" r="3.5" fill="url(#gr2)"/><circle cx="715.15" cy="322.1" r="3.5" fill="url(#gr2)"/><circle cx="717" cy="322.15" r="3.5" fill="url(#gr2)"/><circle cx="718.85" cy="322.18" r="3.5" fill="url(#gr2)"/><circle cx="720.7" cy="322.21" r="3.5" fill="url(#gr2)"/><circle cx="722.55" cy="322.23" r="3.5" fill="url(#gr2)"/><circle cx="724.4" cy="322.26" r="3.5" fill="url(#gr2)"/><circle cx="726.25" cy="322.28" r="3.5" fill="url(#gr2)"/><circle cx="728.1" cy="322.3" r="3.5" fill="url(#gr2)"/><circle cx="729.95" cy="322.32" r="3.5" fill="url(#gr2)"/><circle cx="731.8" cy="322.35" r="3.5" fill="url(#gr2)"/><circle cx="733.65" cy="322.37" r="3.5" fill="url(#gr2)"/><circle cx="735.5" cy="322.39" r="3.5" fill="url(#gr2)"/><circle cx="737.35" cy="322.4" r="3.5" fill="url(#gr2)"/><circle cx="739.2" cy="322.42" r="3.5" fill="url(#gr2)"/><circle cx="741.05" cy="322.44" r="3.5" fill="url(#gr2)"/><circle cx="742.9" cy="322.46" r="3.5" fill="url(#gr2)"/><circle cx="744.75" cy="322.47" r="3.5" fill="url(#gr2)"/><circle cx="746.6" cy="322.49" r="3.5" fill="url(#gr2)"/><circle cx="748.45" cy="322.5" r="3.5" fill="url(#gr2)"/><circle cx="750.3" cy="322.51" r="3.5" fill="url(#gr2)"/><circle cx="752.15" cy="322.53" r="3.5" fill="url(#gr2)"/><circle cx="754" cy="322.54" r="3.5" fill="url(#gr2)"/><circle cx="755.85" cy="322.55" r="3.5" fill="url(#gr2)"/><circle cx="757.7" cy="322.56" r="3.5" fill="url(#gr2)"/><circle cx="759.55" cy="322.57" r="3.5" fill="url(#gr2)"/><circle cx="761.4" cy="322.57" r="3.5" fill="url(#gr2)"/><circle cx="763.25" cy="322.58" r="3.5" fill="url(#gr2)"/><circle cx="765.1" cy="322.59" r="3.5" fill="url(#gr2)"/><circle cx="766.95" cy="322.59" r="3.5" fill="url(#gr2)"/><circle cx="768.8" cy="322.59" r="3.5" fill="url(#gr2)"/><circle cx="770.65" cy="322.6" r="3.5" fill="url(#gr2)"/><circle cx="772.5" cy="322.6" r="3.5" fill="url(#gr2)"/><circle cx="774.35" cy="322.6" r="3.5" fill="url(#gr2)"/>
</g>
<path d="M541.3 237.5L564.1 327M568.6 237L599.8 328.3" stroke="#222" stroke-width="1.4" stroke-dasharray="1.6 4.2" fill="none"/>
<path d="M535.2 300.9L558.2 320.9M601.6 321L676.7 277.3" stroke="#111" stroke-width="1" fill="none"/>
<text transform="translate(487.4,291) scale(1.0,1)" font-size="14.0" text-anchor="start" style="font-family:'Liberation Sans',sans-serif;font-weight:normal" fill="#1a1a1a" stroke="#1a1a1a" stroke-width="0.3">-0.76 V</text>
<text transform="translate(664.3,276) scale(1.0,1)" font-size="14.4" text-anchor="start" style="font-family:'Liberation Sans',sans-serif;font-weight:normal" fill="#1a1a1a" stroke="#1a1a1a" stroke-width="0.3">-0.63 V</text>
<text transform="translate(464.4,330.8) scale(0.99,1)" font-size="17.3" text-anchor="end" style="font-family:'Liberation Sans',sans-serif;font-weight:normal" fill="#1a1a1a" stroke="#1a1a1a" stroke-width="0.3">0.00</text>
<text transform="translate(464.4,178.95) scale(0.99,1)" font-size="17.3" text-anchor="end" style="font-family:'Liberation Sans',sans-serif;font-weight:normal" fill="#1a1a1a" stroke="#1a1a1a" stroke-width="0.3">0.04</text>
<text transform="translate(464.4,27.1) scale(0.99,1)" font-size="17.3" text-anchor="end" style="font-family:'Liberation Sans',sans-serif;font-weight:normal" fill="#1a1a1a" stroke="#1a1a1a" stroke-width="0.3">0.08</text>
<text transform="translate(498.1,345) scale(0.99,1)" font-size="17.3" text-anchor="middle" style="font-family:'Liberation Sans',sans-serif;font-weight:normal" fill="#1a1a1a" stroke="#1a1a1a" stroke-width="0.3">-1.0</text>
<text transform="translate(553.46,345) scale(0.99,1)" font-size="17.3" text-anchor="middle" style="font-family:'Liberation Sans',sans-serif;font-weight:normal" fill="#1a1a1a" stroke="#1a1a1a" stroke-width="0.3">-0.8</text>
<text transform="translate(608.82,345) scale(0.99,1)" font-size="17.3" text-anchor="middle" style="font-family:'Liberation Sans',sans-serif;font-weight:normal" fill="#1a1a1a" stroke="#1a1a1a" stroke-width="0.3">-0.6</text>
<text transform="translate(664.18,345) scale(0.99,1)" font-size="17.3" text-anchor="middle" style="font-family:'Liberation Sans',sans-serif;font-weight:normal" fill="#1a1a1a" stroke="#1a1a1a" stroke-width="0.3">-0.4</text>
<text transform="translate(719.54,345) scale(0.99,1)" font-size="17.3" text-anchor="middle" style="font-family:'Liberation Sans',sans-serif;font-weight:normal" fill="#1a1a1a" stroke="#1a1a1a" stroke-width="0.3">-0.2</text>
<text transform="translate(774.9,345) scale(0.99,1)" font-size="17.3" text-anchor="middle" style="font-family:'Liberation Sans',sans-serif;font-weight:normal" fill="#1a1a1a" stroke="#1a1a1a" stroke-width="0.3">0.0</text>
<text transform="translate(615,368) scale(1.03,1)" font-size="20.1" text-anchor="middle" style="font-family:'Liberation Sans',sans-serif;font-weight:normal" fill="#1a1a1a" stroke="#1a1a1a" stroke-width="0.3">Potential / V (vs Ag/AgCl)</text>
<text transform="translate(426.6,178.6) rotate(-90) scale(1.054,1)" font-size="19.6" text-anchor="middle" style="font-family:'Liberation Sans',sans-serif" fill="#1a1a1a" stroke="#1a1a1a" stroke-width="0.3">Current density / mA cm<tspan font-size="11" dy="-10.5">-2</tspan></text>
<path d="M608.8 141.2H619.8M630.8 141.2H642" stroke="#111" stroke-width="1.1"/>
<path d="M608.8 164.1H619.8M630.8 164.1H642" stroke="#c8303a" stroke-width="1.1"/>
<circle cx="625.2" cy="141.2" r="3.3" fill="url(#gb)"/>
<circle cx="625.2" cy="164" r="3.3" fill="url(#gr)"/>
<text transform="translate(646.4,146) scale(1.16,1)" font-size="12.3" text-anchor="start" style="font-family:'Liberation Sans',sans-serif;font-weight:normal" fill="#1a1a1a" stroke="#1a1a1a" stroke-width="0.3">BiFeO<tspan font-size="8" dy="5">3</tspan></text>
<text transform="translate(646.4,168.8) scale(1.16,1)" font-size="12.3" text-anchor="start" style="font-family:'Liberation Sans',sans-serif;font-weight:normal" fill="#1a1a1a" stroke="#1a1a1a" stroke-width="0.3">3CoO<tspan font-size="8" dy="5">x</tspan><tspan dy="-5">/BiFeO</tspan><tspan font-size="8" dy="5">3</tspan></text>
<text transform="translate(386.6,25.6) scale(1.0,1)" font-size="29.5" text-anchor="start" style="font-family:'Liberation Serif',serif;font-weight:bold" fill="#000"><tspan font-size="28.5" dy="-1">(</tspan><tspan dy="1">b</tspan><tspan font-size="28.5" dy="-1">)</tspan></text>
<g clip-path="url(#cc)">
<path d="M267.3 672.2 L267.5 672.3 L267.6 672.3 L267.8 672.0 L267.9 672.0 L268.1 672.3 L268.2 672.2 L268.4 672.1 L268.5 672.0 L268.7 672.2 L268.9 672.0 L269.0 672.4 L269.2 672.2 L269.3 671.9 L269.5 671.8 L269.6 672.1 L269.8 672.1 L270.0 671.8 L270.1 672.0 L270.3 672.0 L270.4 671.8 L270.6 671.8 L270.7 671.7 L270.9 671.7 L271.1 671.9 L271.2 671.8 L271.4 671.8 L271.5 672.0 L271.7 671.9 L271.8 671.6 L272.0 672.0 L272.2 671.5 L272.3 671.6 L272.5 671.7 L272.6 671.6 L272.8 671.5 L272.9 671.4 L273.1 671.6 L273.3 671.6 L273.4 671.6 L273.6 671.2 L273.7 671.4 L273.9 671.6 L274.0 671.5 L274.2 671.6 L274.4 671.4 L274.5 671.4 L274.7 671.0 L274.8 671.7 L275.0 671.2 L275.1 671.3 L275.3 671.4 L275.4 671.3 L275.6 671.4 L275.8 671.2 L275.9 671.1 L276.1 671.5 L276.2 671.0 L276.4 671.2 L276.5 670.9 L276.7 671.1 L276.9 670.9 L277.0 671.0 L277.2 670.9 L277.3 671.0 L277.5 671.1 L277.6 670.9 L277.8 670.9 L278.0 670.6 L278.1 671.3 L278.3 670.9 L278.4 670.7 L278.6 671.1 L278.7 670.9 L278.9 670.5 L279.1 670.6 L279.2 670.9 L279.4 670.5 L279.5 670.5 L279.7 670.6 L279.8 670.6 L280.0 670.6 L280.2 670.8 L280.3 670.7 L280.5 670.5 L280.6 670.5 L280.8 670.2 L280.9 670.6 L281.1 670.9 L281.3 670.5 L281.4 670.4 L281.6 670.4 L281.7 670.4 L281.9 670.5 L282.0 670.1 L282.2 670.4 L282.3 670.2 L282.5 670.3 L282.7 670.4 L282.8 670.0 L283.0 670.6 L283.1 670.3 L283.3 670.1 L283.4 670.2 L283.6 670.0 L283.8 670.1 L283.9 670.1 L284.1 669.7 L284.2 670.0 L284.4 670.0 L284.5 670.1 L284.7 670.0 L284.9 669.8 L285.0 669.8 L285.2 669.8 L285.3 669.9 L285.5 669.7 L285.6 670.0 L285.8 669.8 L286.0 669.7 L286.1 669.8 L286.3 669.6 L286.4 669.7 L286.6 669.7 L286.7 669.3 L286.9 669.4 L287.1 669.3 L287.2 669.5 L287.4 669.3 L287.5 669.3 L287.7 669.2 L287.8 669.0 L288.0 669.4 L288.1 669.3 L288.3 669.3 L288.5 669.8 L288.6 669.5 L288.8 669.2 L288.9 669.1 L289.1 669.3 L289.2 669.0 L289.4 668.9 L289.6 669.1 L289.7 668.8 L289.9 668.7 L290.0 668.9 L290.2 669.1 L290.3 668.7 L290.5 668.9 L290.7 668.9 L290.8 668.8 L291.0 668.9 L291.1 668.6 L291.3 668.6 L291.4 668.5 L291.6 668.6 L291.8 668.8 L291.9 668.7 L292.1 668.5 L292.2 668.7 L292.4 668.1 L292.5 668.6 L292.7 668.6 L292.9 668.3 L293.0 668.3 L293.2 668.4 L293.3 668.4 L293.5 668.3 L293.6 668.2 L293.8 668.2 L294.0 668.3 L294.1 668.2 L294.3 668.1 L294.4 668.1 L294.6 668.7 L294.7 668.3 L294.9 668.2 L295.0 668.1 L295.2 668.0 L295.4 667.9 L295.5 667.9 L295.7 668.0 L295.8 667.9 L296.0 667.6 L296.1 668.0 L296.3 667.8 L296.5 667.6 L296.6 667.7 L296.8 668.1 L296.9 667.7 L297.1 667.7 L297.2 667.7 L297.4 667.5 L297.6 667.5 L297.7 605.5 L297.9 600.1 L298.0 601.8 L298.2 605.1 L298.3 606.4 L298.5 611.9 L298.7 612.5 L298.8 611.3 L299.0 607.7 L299.1 614.4 L299.3 616.0 L299.4 609.1 L299.6 617.9 L299.8 618.1 L299.9 619.0 L300.1 617.9 L300.2 617.8 L300.4 630.8 L300.5 620.4 L300.7 617.2 L300.9 620.8 L301.0 617.5 L301.2 628.2 L301.3 623.1 L301.5 619.5 L301.6 620.1 L301.8 619.8 L301.9 617.9 L302.1 621.1 L302.3 619.3 L302.4 628.3 L302.6 621.1 L302.7 621.8 L302.9 614.8 L303.0 613.7 L303.2 618.3 L303.4 609.3 L303.5 620.0 L303.7 625.4 L303.8 625.7 L304.0 616.4 L304.1 619.1 L304.3 621.3 L304.5 621.8 L304.6 622.4 L304.8 615.4 L304.9 620.1 L305.1 614.4 L305.2 620.2 L305.4 630.3 L305.6 617.9 L305.7 623.1 L305.9 625.3 L306.0 617.7 L306.2 626.7 L306.3 619.8 L306.5 622.3 L306.7 623.5 L306.8 619.2 L307.0 621.1 L307.1 606.3 L307.3 612.0 L307.4 615.2 L307.6 615.1 L307.7 617.1 L307.9 621.6 L308.1 615.5 L308.2 622.1 L308.4 619.4 L308.5 626.9 L308.7 625.8 L308.8 623.7 L309.0 627.7 L309.2 626.7 L309.3 625.3 L309.5 619.4 L309.6 624.8 L309.8 619.7 L309.9 616.1 L310.1 621.0 L310.3 627.2 L310.4 619.5 L310.6 615.3 L310.7 618.9 L310.9 613.4 L311.0 613.8 L311.2 613.4 L311.4 617.1 L311.5 617.8 L311.7 617.9 L311.8 619.8 L312.0 617.2 L312.1 617.4 L312.3 622.1 L312.5 620.2 L312.6 621.4 L312.8 629.1 L312.9 627.6 L313.1 624.8 L313.2 619.1 L313.4 617.2 L313.6 614.4 L313.7 618.1 L313.9 613.0 L314.0 614.6 L314.2 620.6 L314.3 617.1 L314.5 622.0 L314.6 614.0 L314.8 624.0 L315.0 624.1 L315.1 622.4 L315.3 621.5 L315.4 621.2 L315.6 612.2 L315.7 615.6 L315.9 615.2 L316.1 613.1 L316.2 622.6 L316.4 613.9 L316.5 617.4 L316.7 617.2 L316.8 625.1 L317.0 620.8 L317.2 621.6 L317.3 622.2 L317.5 603.1 L317.6 615.0 L317.8 617.4 L317.9 616.4 L318.1 614.1 L318.3 615.3 L318.4 618.0 L318.6 616.8 L318.7 614.6 L318.9 622.7 L319.0 622.6 L319.2 628.2 L319.4 630.1 L319.5 630.8 L319.7 635.7 L319.8 643.5 L320.0 643.4 L320.1 639.4 L320.3 645.5 L320.5 644.0 L320.6 642.6 L320.8 648.8 L320.9 639.0 L321.1 641.0 L321.2 638.2 L321.4 654.6 L321.5 662.5 L321.7 664.7 L321.9 665.3 L322.0 665.2 L322.2 665.4 L322.3 665.5 L322.5 665.4 L322.6 665.2 L322.8 665.5 L323.0 665.1 L323.1 665.2 L323.3 665.3 L323.4 665.1 L323.6 665.0 L323.7 665.2 L323.9 665.2 L324.1 665.0 L324.2 665.0 L324.4 665.3 L324.5 665.2 L324.7 665.2 L324.8 665.2 L325.0 665.3 L325.2 665.0 L325.3 665.1 L325.5 665.1 L325.6 664.9 L325.8 665.1 L325.9 665.1 L326.1 665.0 L326.3 665.1 L326.4 665.0 L326.6 664.9 L326.7 665.0 L326.9 664.8 L327.0 665.1 L327.2 665.0 L327.3 665.1 L327.5 665.0 L327.7 665.0 L327.8 664.8 L328.0 664.8 L328.1 664.9 L328.3 664.7 L328.4 664.7 L328.6 664.8 L328.8 665.0 L328.9 665.1 L329.1 664.9 L329.2 664.9 L329.4 664.9 L329.5 664.9 L329.7 665.0 L329.9 664.7 L330.0 665.0 L330.2 664.9 L330.3 664.7 L330.5 665.0 L330.6 664.7 L330.8 664.7 L331.0 664.8 L331.1 664.9 L331.3 664.8 L331.4 665.0 L331.6 664.6 L331.7 664.8 L331.9 664.8 L332.1 664.9 L332.2 664.7 L332.4 664.6 L332.5 664.9 L332.7 664.8 L332.8 664.9 L333.0 664.6 L333.2 664.7 L333.3 664.4 L333.5 664.7 L333.6 664.8 L333.8 664.8 L333.9 664.6 L334.1 664.9 L334.2 664.6 L334.4 664.6 L334.6 664.7 L334.7 664.8 L334.9 664.5 L335.0 664.4 L335.2 664.7 L335.3 664.6 L335.5 664.4 L335.7 664.7 L335.8 664.7 L336.0 664.8 L336.1 664.7 L336.3 664.6 L336.4 664.7 L336.6 664.7 L336.8 664.8 L336.9 664.8 L337.1 664.7 L337.2 664.5 L337.4 664.7 L337.5 664.7 L337.7 664.5 L337.9 664.5 L338.0 664.7 L338.2 664.7 L338.3 664.5 L338.5 664.5 L338.6 664.7 L338.8 664.6 L339.0 664.6 L339.1 664.4 L339.3 664.7 L339.4 664.5 L339.6 664.5 L339.7 664.7 L339.9 664.4 L340.1 664.4 L340.2 664.7 L340.4 664.3 L340.5 664.7 L340.7 664.7 L340.8 664.6 L341.0 664.5 L341.1 664.5 L341.3 664.6 L341.5 664.4 L341.6 664.5 L341.8 664.4 L341.9 664.2 L342.1 664.5 L342.2 664.8 L342.4 664.6 L342.6 664.7 L342.7 664.5 L342.9 664.5 L343.0 664.7 L343.2 664.7 L343.3 664.6 L343.5 664.5 L343.7 664.8 L343.8 664.4 L344.0 664.5 L344.1 664.5 L344.3 596.7 L344.4 610.0 L344.6 619.3 L344.8 622.6 L344.9 629.0 L345.1 631.4 L345.2 625.2 L345.4 624.5 L345.5 620.0 L345.7 629.5 L345.9 632.4 L346.0 633.4 L346.2 625.9 L346.3 625.4 L346.5 627.7 L346.6 627.3 L346.8 629.6 L346.9 636.6 L347.1 630.3 L347.3 630.0 L347.4 631.5 L347.6 632.1 L347.7 625.0 L347.9 625.8 L348.0 627.5 L348.2 635.4 L348.4 632.4 L348.5 636.7 L348.7 632.7 L348.8 631.7 L349.0 636.1 L349.1 620.5 L349.3 626.0 L349.5 629.0 L349.6 627.4 L349.8 635.1 L349.9 632.5 L350.1 629.9 L350.2 635.6 L350.4 628.1 L350.6 634.3 L350.7 636.8 L350.9 631.3 L351.0 635.0 L351.2 634.8 L351.3 634.4 L351.5 640.6 L351.7 634.1 L351.8 637.1 L352.0 631.5 L352.1 637.0 L352.3 636.0 L352.4 629.3 L352.6 629.4 L352.8 631.4 L352.9 635.5 L353.1 627.5 L353.2 634.9 L353.4 634.3 L353.5 633.5 L353.7 631.8 L353.8 626.8 L354.0 628.3 L354.2 627.8 L354.3 629.7 L354.5 637.8 L354.6 636.7 L354.8 634.3 L354.9 635.4 L355.1 632.4 L355.3 638.2 L355.4 629.7 L355.6 627.6 L355.7 632.5 L355.9 637.2 L356.0 632.3 L356.2 635.4 L356.4 631.4 L356.5 632.5 L356.7 630.7 L356.8 632.0 L357.0 624.4 L357.1 635.6 L357.3 630.9 L357.5 628.6 L357.6 634.3 L357.8 628.4 L357.9 633.0 L358.1 627.5 L358.2 630.9 L358.4 627.7 L358.6 625.1 L358.7 624.2 L358.9 623.2 L359.0 615.7 L359.2 622.7 L359.3 625.4 L359.5 620.2 L359.7 620.9 L359.8 620.3 L360.0 616.5 L360.1 625.3 L360.3 619.4 L360.4 619.6 L360.6 626.1 L360.7 624.9 L360.9 636.0 L361.1 633.3 L361.2 622.5 L361.4 639.7 L361.5 630.0 L361.7 624.6 L361.8 622.5 L362.0 614.9 L362.2 625.2 L362.3 620.3 L362.5 620.6 L362.6 630.4 L362.8 626.7 L362.9 622.5 L363.1 622.5 L363.3 624.0 L363.4 633.0 L363.6 623.1 L363.7 621.4 L363.9 624.5 L364.0 625.2 L364.2 617.2 L364.4 627.4 L364.5 626.9 L364.7 622.3 L364.8 621.3 L365.0 622.7 L365.1 622.2 L365.3 620.7 L365.5 621.8 L365.6 632.1 L365.8 624.6 L365.9 620.4 L366.1 624.3 L366.2 619.2 L366.4 618.6 L366.5 625.4 L366.7 634.0 L366.9 616.3 L367.0 618.7 L367.2 623.1 L367.3 656.6 L367.5 665.2 L367.6 667.3 L367.8 667.9 L368.0 668.1 L368.1 668.2 L368.3 668.3 L368.4 668.0 L368.6 668.0 L368.7 668.1 L368.9 668.3 L369.1 668.1 L369.2 668.2 L369.4 667.8 L369.5 667.9 L369.7 668.0 L369.8 667.9 L370.0 667.5 L370.2 667.7 L370.3 668.0 L370.5 667.8 L370.6 667.9 L370.8 668.0 L370.9 667.7 L371.1 667.4 L371.3 667.5 L371.4 667.6 L371.6 667.7 L371.7 667.6 L371.9 667.4 L372.0 667.7 L372.2 667.8 L372.4 667.3 L372.5 667.5 L372.7 667.3 L372.8 667.4 L373.0 667.3 L373.1 667.5 L373.3 667.3 L373.4 667.2 L373.6 667.2 L373.8 667.4 L373.9 667.2 L374.1 667.4 L374.2 667.5 L374.4 667.2 L374.5 667.1 L374.7 667.1 L374.9 667.4 L375.0 667.1 L375.2 667.1 L375.3 667.2 L375.5 667.5 L375.6 667.0 L375.8 667.0 L376.0 667.1 L376.1 667.3 L376.3 667.3 L376.4 667.0 L376.6 667.0 L376.7 667.0 L376.9 667.1 L377.1 667.0 L377.2 667.1 L377.4 667.1 L377.5 667.1 L377.7 667.0 L377.8 667.0 L378.0 666.8 L378.2 666.9 L378.3 667.1 L378.5 666.7 L378.6 667.1 L378.8 666.9 L378.9 666.8 L379.1 666.7 L379.3 667.2 L379.4 666.7 L379.6 666.7 L379.7 666.7 L379.9 667.1 L380.0 666.9 L380.2 666.8 L380.3 666.9 L380.5 666.6 L380.7 666.9 L380.8 666.6 L381.0 666.7 L381.1 667.0 L381.3 666.9 L381.4 666.8 L381.6 666.7 L381.8 666.6 L381.9 666.8 L382.1 666.6 L382.2 666.9 L382.4 667.1 L382.5 666.8 L382.7 666.6 L382.9 666.7 L383.0 666.8 L383.2 666.6 L383.3 666.4 L383.5 666.7 L383.6 666.8 L383.8 666.8 L384.0 666.4 L384.1 666.7 L384.3 666.6 L384.4 666.5 L384.6 666.5 L384.7 666.7 L384.9 666.5 L385.1 666.5 L385.2 666.5 L385.4 666.5 L385.5 666.7 L385.7 666.6 L385.8 666.7 L386.0 666.5 L386.1 666.7 L386.3 666.5 L386.5 666.7 L386.6 666.6 L386.8 666.6 L386.9 666.6 L387.1 666.5 L387.2 666.6 L387.4 666.6 L387.6 666.8 L387.7 666.4 L387.9 666.6 L388.0 666.6 L388.2 666.6 L388.3 666.4 L388.5 666.6 L388.7 666.4 L388.8 666.4 L389.0 666.3 L389.1 666.3 L389.3 666.4 L389.4 666.6 L389.6 666.3 L389.8 666.3 L389.9 666.4 L390.1 666.4 L390.2 666.5 L390.4 666.5 L390.5 666.3 L390.7 666.3 L390.9 666.6 L391.0 666.3 L391.2 666.4 L391.3 666.3 L391.5 666.4 L391.6 608.5 L391.8 615.2 L392.0 618.0 L392.1 614.2 L392.3 621.9 L392.4 621.7 L392.6 620.7 L392.7 618.7 L392.9 618.9 L393.0 617.6 L393.2 622.2 L393.4 619.8 L393.5 618.5 L393.7 629.0 L393.8 624.4 L394.0 625.6 L394.1 624.7 L394.3 631.1 L394.5 622.1 L394.6 626.8 L394.8 627.9 L394.9 627.7 L395.1 632.2 L395.2 628.0 L395.4 631.3 L395.6 629.9 L395.7 626.3 L395.9 628.5 L396.0 628.5 L396.2 628.0 L396.3 622.5 L396.5 625.5 L396.7 629.8 L396.8 628.6 L397.0 629.3 L397.1 628.2 L397.3 628.4 L397.4 630.1 L397.6 623.3 L397.8 621.5 L397.9 631.3 L398.1 631.2 L398.2 632.2 L398.4 635.5 L398.5 634.8 L398.7 631.8 L398.9 645.5 L399.0 633.3 L399.2 630.3 L399.3 628.6 L399.5 632.1 L399.6 638.3 L399.8 632.2 L399.9 636.3 L400.1 640.0 L400.3 636.3 L400.4 630.3 L400.6 628.1 L400.7 629.0 L400.9 635.5 L401.0 629.3 L401.2 640.2 L401.4 636.8 L401.5 640.9 L401.7 630.7 L401.8 632.5 L402.0 632.3 L402.1 632.9 L402.3 634.1 L402.5 637.1 L402.6 643.5 L402.8 637.5 L402.9 637.6 L403.1 640.3 L403.2 639.4 L403.4 639.3 L403.6 636.6 L403.7 638.8 L403.9 638.3 L404.0 637.9 L404.2 640.5 L404.3 637.9 L404.5 637.2 L404.7 639.0 L404.8 636.6 L405.0 638.1 L405.1 639.4 L405.3 639.7 L405.4 639.3 L405.6 639.0 L405.7 639.1 L405.9 637.2 L406.1 645.1 L406.2 638.1 L406.4 645.9 L406.5 642.6 L406.7 643.7 L406.8 639.6 L407.0 640.1 L407.2 641.3 L407.3 637.6 L407.5 639.7 L407.6 643.3 L407.8 643.2 L407.9 638.1 L408.1 638.3 L408.3 637.6 L408.4 644.1 L408.6 642.4 L408.7 638.2 L408.9 636.4 L409.0 637.8 L409.2 638.1 L409.4 639.6 L409.5 654.0 L409.7 645.7 L409.8 645.5 L410.0 648.3 L410.1 640.2 L410.3 639.8 L410.5 642.8 L410.6 644.4 L410.8 641.0 L410.9 637.3 L411.1 644.0 L411.2 643.5 L411.4 639.5 L411.6 647.3 L411.7 647.4 L411.9 644.1 L412.0 646.7 L412.2 644.4 L412.3 647.6 L412.5 646.7 L412.6 645.0 L412.8 647.4 L413.0 645.0 L413.1 641.6 L413.3 639.4 L413.4 638.7 L413.6 641.1 L413.7 652.9 L413.9 650.0 L414.1 652.2 L414.2 645.2 L414.4 647.8 L414.5 638.3 L414.7 644.0 L414.8 664.8 L415.0 670.2 L415.2 671.9 L415.3 671.9 L415.5 672.0 L415.6 672.1 L415.8 671.9 L415.9 672.1 L416.1 671.7 L416.3 671.5 L416.4 671.8 L416.6 671.5 L416.7 671.5 L416.9 671.4 L417.0 671.6 L417.2 671.3 L417.4 671.3 L417.5 671.2 L417.7 671.2 L417.8 671.1 L418.0 671.1 L418.1 671.0 L418.3 670.9 L418.5 671.0 L418.6 670.8 L418.8 670.9 L418.9 670.8 L419.1 670.9 L419.2 670.7 L419.4 670.6 L419.5 670.7 L419.7 670.5 L419.9 670.5 L420.0 670.7 L420.2 670.5 L420.3 670.3 L420.5 670.5 L420.6 670.6 L420.8 670.3 L421.0 670.4 L421.1 670.0 L421.3 670.2 L421.4 670.2 L421.6 670.2 L421.7 670.1 L421.9 670.2 L422.1 670.2 L422.2 670.0 L422.4 670.1 L422.5 669.8 L422.7 670.1 L422.8 669.9 L423.0 670.0 L423.2 670.0 L423.3 669.6 L423.5 670.0 L423.6 669.6 L423.8 669.9 L423.9 669.7 L424.1 669.4 L424.3 669.9 L424.4 669.8 L424.6 669.4 L424.7 669.5 L424.9 669.6 L425.0 669.5 L425.2 669.6 L425.3 669.4 L425.5 669.2 L425.7 669.5 L425.8 669.4 L426.0 669.2 L426.1 669.1 L426.3 669.4 L426.4 669.3 L426.6 669.4 L426.8 669.3 L426.9 669.3 L427.1 669.3 L427.2 669.4 L427.4 669.4 L427.5 669.3 L427.7 669.1 L427.9 669.0 L428.0 669.2 L428.2 669.1 L428.3 669.0 L428.5 669.0 L428.6 669.1 L428.8 669.0 L429.0 668.8 L429.1 669.0 L429.3 669.0 L429.4 669.2 L429.6 668.9 L429.7 669.0 L429.9 668.7 L430.1 668.9 L430.2 668.8 L430.4 668.8 L430.5 668.6 L430.7 669.0 L430.8 668.6 L431.0 668.8 L431.2 668.8 L431.3 668.8 L431.5 668.8 L431.6 668.8 L431.8 669.1 L431.9 668.7 L432.1 668.7 L432.2 668.8 L432.4 668.7 L432.6 668.4 L432.7 668.6 L432.9 668.7 L433.0 668.4 L433.2 668.8 L433.3 668.7 L433.5 668.7 L433.7 668.7 L433.8 668.5 L434.0 668.5 L434.1 668.7 L434.3 668.6 L434.4 668.6 L434.6 668.6 L434.8 668.6 L434.9 668.6 L435.1 668.6 L435.2 668.5 L435.4 668.7 L435.5 668.5 L435.7 668.5 L435.9 668.6 L436.0 668.6 L436.2 668.5 L436.3 668.5 L436.5 668.5 L436.6 668.5 L436.8 668.6 L437.0 668.3 L437.1 668.3 L437.3 668.4 L437.4 668.3 L437.6 668.4 L437.7 668.4 L437.9 668.4 L438.1 668.1 L438.2 668.3 L438.4 668.3 L438.5 627.2 L438.7 632.0 L438.8 632.6 L439.0 629.1 L439.1 634.1 L439.3 632.9 L439.5 643.1 L439.6 634.4 L439.8 634.6 L439.9 638.6 L440.1 637.6 L440.2 635.1 L440.4 640.5 L440.6 636.3 L440.7 639.0 L440.9 640.3 L441.0 638.6 L441.2 642.9 L441.3 641.8 L441.5 639.0 L441.7 640.9 L441.8 646.0 L442.0 637.7 L442.1 642.2 L442.3 644.3 L442.4 637.2 L442.6 647.2 L442.8 637.4 L442.9 643.7 L443.1 639.0 L443.2 642.5 L443.4 644.6 L443.5 641.0 L443.7 641.5 L443.9 641.5 L444.0 639.9 L444.2 643.9 L444.3 637.5 L444.5 637.1 L444.6 638.9 L444.8 641.1 L444.9 643.0 L445.1 636.9 L445.3 637.2 L445.4 640.1 L445.6 642.7 L445.7 636.0 L445.9 644.4 L446.0 642.6 L446.2 642.3 L446.4 644.5 L446.5 640.8 L446.7 641.8 L446.8 638.8 L447.0 639.5 L447.1 643.5 L447.3 640.1 L447.5 640.2 L447.6 642.0 L447.8 641.8 L447.9 635.3 L448.1 641.1 L448.2 638.5 L448.4 642.1 L448.6 642.4 L448.7 645.0 L448.9 642.3 L449.0 640.1 L449.2 643.1 L449.3 643.7 L449.5 641.6 L449.7 646.9 L449.8 646.4 L450.0 641.2 L450.1 638.1 L450.3 640.1 L450.4 643.9 L450.6 640.3 L450.8 649.6 L450.9 645.9 L451.1 640.8 L451.2 641.3 L451.4 643.7 L451.5 646.4 L451.7 637.4 L451.8 643.5 L452.0 647.2 L452.2 646.5 L452.3 649.8 L452.5 650.6 L452.6 644.1 L452.8 644.6 L452.9 645.3 L453.1 646.9 L453.3 642.5 L453.4 648.3 L453.6 645.3 L453.7 644.3 L453.9 641.2 L454.0 644.8 L454.2 643.8 L454.4 648.8 L454.5 645.2 L454.7 641.3 L454.8 636.9 L455.0 649.7 L455.1 648.2 L455.3 644.7 L455.5 641.4 L455.6 644.3 L455.8 646.3 L455.9 649.8 L456.1 646.9 L456.2 643.9 L456.4 640.2 L456.6 645.0 L456.7 660.8 L456.9 643.5 L457.0 641.6 L457.2 646.6 L457.3 649.2 L457.5 647.6 L457.7 646.9 L457.8 647.7 L458.0 649.8 L458.1 643.7 L458.3 641.6 L458.4 640.4 L458.6 644.1 L458.7 647.6 L458.9 647.3 L459.1 649.4 L459.2 648.3 L459.4 646.5 L459.5 646.8 L459.7 642.1 L459.8 646.3 L460.0 644.3 L460.2 646.7 L460.3 642.0 L460.5 646.0 L460.6 649.3 L460.8 646.2 L460.9 649.5 L461.1 649.2 L461.3 639.5 L461.4 639.2 L461.6 645.0 L461.7 668.7 L461.9 674.7 L462.0 676.5 L462.2 676.7 L462.4 676.7 L462.5 676.8 L462.7 676.5 L462.8 676.6 L463.0 676.5 L463.1 676.6 L463.3 676.1 L463.5 676.3 L463.6 676.2 L463.8 676.0 L463.9 676.1 L464.1 676.0 L464.2 676.0 L464.4 675.8 L464.5 675.8 L464.7 675.6 L464.9 675.6 L465.0 675.6 L465.2 675.5 L465.3 675.4 L465.5 675.4 L465.6 675.1 L465.8 675.1 L466.0 675.1 L466.1 675.2 L466.3 674.9 L466.4 675.1 L466.6 674.8 L466.7 674.8 L466.9 674.8 L467.1 674.8 L467.2 674.7 L467.4 674.3 L467.5 674.6 L467.7 674.5 L467.8 674.3 L468.0 674.3 L468.2 674.2 L468.3 674.4 L468.5 674.3 L468.6 673.7 L468.8 674.1 L468.9 674.1 L469.1 674.0 L469.3 673.8 L469.4 674.1 L469.6 673.8 L469.7 673.8 L469.9 673.7 L470.0 673.7 L470.2 673.8 L470.4 673.8 L470.5 673.9 L470.7 673.5 L470.8 673.7 L471.0 673.6 L471.1 673.3 L471.3 673.5 L471.4 673.3 L471.6 673.4 L471.8 673.2 L471.9 673.3 L472.1 673.3 L472.2 673.1 L472.4 673.2 L472.5 673.3 L472.7 673.2 L472.9 673.0 L473.0 673.2 L473.2 672.9 L473.3 672.9 L473.5 672.7 L473.6 673.0 L473.8 672.8 L474.0 673.1 L474.1 672.9 L474.3 672.8 L474.4 672.8 L474.6 672.8 L474.7 672.8 L474.9 672.8 L475.1 672.8 L475.2 672.7 L475.4 672.6 L475.5 672.6 L475.7 672.5 L475.8 672.5 L476.0 672.8 L476.2 672.6 L476.3 672.6 L476.5 672.6 L476.6 672.4 L476.8 672.4 L476.9 672.5 L477.1 672.4 L477.3 672.3 L477.4 672.4 L477.6 672.4 L477.7 672.2 L477.9 672.3 L478.0 672.1 L478.2 672.3 L478.3 672.2 L478.5 672.3 L478.7 672.4 L478.8 672.2 L479.0 672.6 L479.1 672.2 L479.3 672.1 L479.4 672.2 L479.6 672.2 L479.8 672.0 L479.9 672.1 L480.1 672.0 L480.2 671.8 L480.4 672.0 L480.5 672.0 L480.7 672.0 L480.9 672.0 L481.0 672.0 L481.2 672.0 L481.3 671.9 L481.5 672.2 L481.6 672.0 L481.8 671.9 L482.0 672.1 L482.1 672.0 L482.3 672.0 L482.4 671.9 L482.6 671.8 L482.7 671.7 L482.9 671.8 L483.1 672.0 L483.2 671.8 L483.4 671.8 L483.5 671.7 L483.7 672.1 L483.8 671.8 L484.0 672.1 L484.1 671.7 L484.3 671.8 L484.5 671.7 L484.6 671.7 L484.8 671.7 L484.9 629.7 L485.1 635.8 L485.2 633.1 L485.4 635.2 L485.6 634.0 L485.7 634.1 L485.9 632.5 L486.0 632.8 L486.2 638.5 L486.3 635.8 L486.5 639.6 L486.7 639.8 L486.8 639.5 L487.0 639.6 L487.1 640.6 L487.3 639.9 L487.4 638.9 L487.6 638.6 L487.8 642.1 L487.9 634.2 L488.1 639.8 L488.2 636.6 L488.4 638.6 L488.5 638.0 L488.7 646.3 L488.9 636.6 L489.0 641.6 L489.2 643.7 L489.3 638.8 L489.5 633.6 L489.6 637.7 L489.8 642.5 L490.0 639.9 L490.1 634.1 L490.3 640.3 L490.4 636.5 L490.6 639.9 L490.7 635.6 L490.9 642.1 L491.0 638.9 L491.2 644.0 L491.4 645.1 L491.5 640.5 L491.7 641.4 L491.8 648.5 L492.0 642.1 L492.1 641.5 L492.3 645.6 L492.5 641.6 L492.6 643.0 L492.8 645.4 L492.9 646.3 L493.1 648.0 L493.2 646.1 L493.4 647.5 L493.6 644.0 L493.7 647.7 L493.9 643.4 L494.0 645.9 L494.2 646.3 L494.3 641.8 L494.5 641.2 L494.7 643.3 L494.8 651.2 L495.0 643.5 L495.1 643.8 L495.3 645.6 L495.4 648.2 L495.6 647.4 L495.8 644.4 L495.9 644.8 L496.1 646.9 L496.2 648.5 L496.4 648.0 L496.5 645.3 L496.7 639.5 L496.9 646.0 L497.0 642.9 L497.2 645.9 L497.3 650.0 L497.5 647.8 L497.6 649.4 L497.8 654.1 L497.9 653.3 L498.1 647.5 L498.3 649.8 L498.4 648.0 L498.6 650.2 L498.7 650.1 L498.9 646.4 L499.0 649.2 L499.2 650.7 L499.4 648.1 L499.5 647.4 L499.7 652.0 L499.8 647.9 L500.0 647.9 L500.1 650.5 L500.3 648.0 L500.5 648.0 L500.6 649.0 L500.8 650.9 L500.9 656.7 L501.1 655.8 L501.2 648.9 L501.4 651.2 L501.6 649.3 L501.7 651.1 L501.9 647.2 L502.0 652.9 L502.2 650.0 L502.3 654.0 L502.5 651.9 L502.7 646.2 L502.8 659.4 L503.0 656.9 L503.1 657.9 L503.3 657.5 L503.4 655.0 L503.6 657.3 L503.7 657.9 L503.9 654.0 L504.1 655.4 L504.2 659.5 L504.4 661.1 L504.5 652.0 L504.7 654.3 L504.8 654.9 L505.0 658.2 L505.2 655.7 L505.3 653.8 L505.5 656.3 L505.6 648.9 L505.8 654.2 L505.9 651.6 L506.1 658.1 L506.3 658.6 L506.4 658.5 L506.6 659.1 L506.7 657.5 L506.9 658.1 L507.0 655.7 L507.2 653.3 L507.4 651.1 L507.5 657.0 L507.7 660.6 L507.8 659.5 L508.0 655.7 L508.1 660.5 L508.3 658.6 L508.5 675.5 L508.6 679.8 L508.8 681.0 L508.9 681.1 L509.1 681.3 L509.2 680.9 L509.4 680.9 L509.6 680.9 L509.7 680.7 L509.9 680.6 L510.0 680.4 L510.2 680.1 L510.3 680.1 L510.5 679.9 L510.6 679.8 L510.8 680.0 L511.0 679.7 L511.1 679.5 L511.3 679.3 L511.4 679.6 L511.6 679.5 L511.7 679.2 L511.9 679.2 L512.1 679.2 L512.2 678.9 L512.4 679.0 L512.5 679.1 L512.7 678.7 L512.8 678.6 L513.0 678.5 L513.2 678.3 L513.3 678.4 L513.5 678.3 L513.6 678.3 L513.8 678.3 L513.9 678.1 L514.1 677.9 L514.3 677.8 L514.4 677.6 L514.6 677.8 L514.7 677.9 L514.9 677.5 L515.0 677.4 L515.2 677.6 L515.4 677.6 L515.5 677.3 L515.7 677.2 L515.8 677.4 L516.0 677.2 L516.1 677.2 L516.3 677.2 L516.5 677.2 L516.6 676.9 L516.8 676.9 L516.9 676.9 L517.1 677.1 L517.2 676.5 L517.4 676.8 L517.5 676.6 L517.7 676.7 L517.9 676.5 L518.0 676.7 L518.2 676.4 L518.3 676.4 L518.5 676.2 L518.6 676.4 L518.8 676.3 L519.0 676.2 L519.1 675.9 L519.3 676.3 L519.4 676.0 L519.6 676.1 L519.7 675.9 L519.9 675.9 L520.1 675.9 L520.2 675.8 L520.4 675.8 L520.5 675.9 L520.7 675.8 L520.8 675.9 L521.0 675.7 L521.2 675.7 L521.3 675.6 L521.5 675.5 L521.6 675.5 L521.8 675.4 L521.9 675.3 L522.1 675.7 L522.3 675.3 L522.4 675.4 L522.6 675.4 L522.7 675.5 L522.9 675.2 L523.0 675.1 L523.2 675.1 L523.3 675.2 L523.5 675.1 L523.7 675.0 L523.8 674.9 L524.0 674.9 L524.1 675.0 L524.3 675.0 L524.4 675.0 L524.6 675.0 L524.8 675.0 L524.9 674.8 L525.1 675.0 L525.2 675.0 L525.4 674.8 L525.5 674.9 L525.7 674.9 L525.9 675.1 L526.0 674.7 L526.2 674.8 L526.3 674.8 L526.5 674.7 L526.6 674.7 L526.8 674.8 L527.0 674.4 L527.1 674.7 L527.3 674.5 L527.4 674.4 L527.6 674.7 L527.7 674.6 L527.9 674.7 L528.1 674.4 L528.2 674.6 L528.4 674.6 L528.5 674.3 L528.7 674.4 L528.8 674.6 L529.0 674.3 L529.2 674.4 L529.3 674.1 L529.5 674.2 L529.6 674.5 L529.8 674.4 L529.9 674.5 L530.1 674.3 L530.2 674.3 L530.4 674.2 L530.6 674.3 L530.7 674.5 L530.9 674.4 L531.0 674.1 L531.2 674.1 L531.3 674.3 L531.5 674.2 L531.7 674.2 L531.8 647.7 L532.0 649.5 L532.1 650.2 L532.3 648.3 L532.4 645.5 L532.6 640.6 L532.8 641.8 L532.9 648.9 L533.1 649.2 L533.2 647.7 L533.4 654.2 L533.5 650.1 L533.7 648.7 L533.9 651.1 L534.0 651.2 L534.2 647.5 L534.3 654.0 L534.5 652.1 L534.6 649.7 L534.8 646.3 L535.0 652.6 L535.1 645.5 L535.3 652.3 L535.4 651.2 L535.6 651.4 L535.7 652.7 L535.9 652.7 L536.1 647.4 L536.2 649.4 L536.4 651.2 L536.5 647.9 L536.7 653.4 L536.8 648.9 L537.0 650.0 L537.1 655.3 L537.3 650.1 L537.5 655.0 L537.6 648.3 L537.8 649.2 L537.9 645.0 L538.1 644.6 L538.2 649.0 L538.4 652.0 L538.6 649.8 L538.7 649.5 L538.9 649.7 L539.0 653.7 L539.2 648.3 L539.3 647.4 L539.5 654.4 L539.7 649.8 L539.8 649.4 L540.0 651.7 L540.1 654.3 L540.3 649.5 L540.4 657.7 L540.6 651.6 L540.8 652.6 L540.9 660.1 L541.1 649.9 L541.2 649.2 L541.4 647.6 L541.5 654.2 L541.7 654.1 L541.9 658.1 L542.0 654.0 L542.2 651.4 L542.3 653.8 L542.5 653.9 L542.6 653.0 L542.8 654.6 L542.9 655.3 L543.1 657.4 L543.3 655.2 L543.4 654.5 L543.6 661.3 L543.7 646.1 L543.9 643.1 L544.0 651.1 L544.2 650.9 L544.4 648.3 L544.5 646.8 L544.7 649.7 L544.8 648.7 L545.0 653.6 L545.1 653.3 L545.3 654.0 L545.5 654.8 L545.6 649.7 L545.8 649.6 L545.9 646.3 L546.1 652.6 L546.2 646.9 L546.4 654.9 L546.6 650.6 L546.7 651.7 L546.9 653.6 L547.0 647.4 L547.2 652.9 L547.3 651.3 L547.5 655.7 L547.7 647.8 L547.8 649.2 L548.0 652.5 L548.1 650.9 L548.3 652.4 L548.4 649.0 L548.6 650.4 L548.8 654.8 L548.9 650.6 L549.1 643.3 L549.2 646.0 L549.4 649.3 L549.5 647.2 L549.7 649.8 L549.8 648.6 L550.0 653.6 L550.2 651.8 L550.3 648.7 L550.5 651.0 L550.6 649.4 L550.8 644.0 L550.9 651.7 L551.1 649.1 L551.3 653.8 L551.4 654.7 L551.6 651.1 L551.7 657.7 L551.9 657.1 L552.0 646.7 L552.2 652.7 L552.4 646.7 L552.5 649.6 L552.7 649.7 L552.8 647.3 L553.0 646.4 L553.1 651.6 L553.3 644.2 L553.5 650.9 L553.6 649.7 L553.8 644.8 L553.9 650.7 L554.1 644.7 L554.2 648.8 L554.4 643.7 L554.6 646.4 L554.7 646.5 L554.9 650.8 L555.0 636.9 L555.2 649.0 L555.3 667.0 L555.5 681.7 L555.7 685.1 L555.8 686.1 L556.0 686.1 L556.1 686.4 L556.3 685.9 L556.4 685.6 L556.6 685.9 L556.7 685.3 L556.9 685.3 L557.1 685.3 L557.2 685.3 L557.4 684.8 L557.5 684.8 L557.7 684.7 L557.8 684.6 L558.0 684.6 L558.2 684.2 L558.3 684.4 L558.5 684.0 L558.6 684.2 L558.8 684.0 L558.9 684.0 L559.1 683.5 L559.3 683.8 L559.4 683.6 L559.6 683.3 L559.7 683.2 L559.9 682.9 L560.0 682.8 L560.2 682.9 L560.4 682.8 L560.5 683.0 L560.7 682.8 L560.8 682.6 L561.0 682.5 L561.1 682.6 L561.3 682.4 L561.5 682.3 L561.6 682.0 L561.8 682.0 L561.9 682.0 L562.1 681.9 L562.2 681.8 L562.4 681.8 L562.5 681.7 L562.7 681.8 L562.9 681.4 L563.0 681.3 L563.2 681.3 L563.3 681.2 L563.5 681.2 L563.6 680.9 L563.8 681.1 L564.0 681.2 L564.1 681.1 L564.3 680.8 L564.4 680.7 L564.6 680.7 L564.7 680.6 L564.9 680.6 L565.1 680.8 L565.2 680.6 L565.4 680.7 L565.5 680.5 L565.7 680.5 L565.8 680.3 L566.0 680.3 L566.2 680.5 L566.3 680.1 L566.5 680.0 L566.6 680.2 L566.8 680.0 L566.9 679.9 L567.1 680.0 L567.3 679.8 L567.4 679.8 L567.6 679.6 L567.7 679.7 L567.9 679.7 L568.0 679.6 L568.2 679.5 L568.4 679.5 L568.5 679.6 L568.7 679.6 L568.8 679.5 L569.0 679.5 L569.1 679.3 L569.3 679.3 L569.4 679.3 L569.6 679.3 L569.8 679.2 L569.9 679.0 L570.1 679.0 L570.2 679.2 L570.4 679.0 L570.5 679.1 L570.7 679.0 L570.9 679.0 L571.0 679.0 L571.2 679.1 L571.3 679.2 L571.5 678.8 L571.6 678.7 L571.8 678.9 L572.0 678.7 L572.1 678.8 L572.3 678.7 L572.4 678.8 L572.6 678.7 L572.7 678.7 L572.9 678.9 L573.1 678.6 L573.2 678.6 L573.4 678.9 L573.5 678.4 L573.7 678.5 L573.8 678.5 L574.0 678.4 L574.2 678.5 L574.3 678.6 L574.5 678.5 L574.6 678.4 L574.8 678.1 L574.9 678.1 L575.1 678.4 L575.3 678.3 L575.4 678.2 L575.6 678.2 L575.7 678.3 L575.9 678.3 L576.0 678.0 L576.2 678.0 L576.3 678.4 L576.5 678.4 L576.7 678.2 L576.8 678.1 L577.0 678.0 L577.1 678.1 L577.3 678.3 L577.4 678.0 L577.6 678.0 L577.8 678.0 L577.9 678.1 L578.1 677.9 L578.2 678.0 L578.4 678.1 L578.5 677.9" fill="none" stroke="#111" stroke-width="1.15" stroke-linejoin="round"/>
<path d="M267.3 658.4 L267.5 658.6 L267.6 659.0 L267.8 659.5 L267.9 659.6 L268.1 660.0 L268.2 659.9 L268.4 659.8 L268.5 660.6 L268.7 660.8 L268.9 660.7 L269.0 661.0 L269.2 661.2 L269.3 661.8 L269.5 661.7 L269.6 661.6 L269.8 662.5 L270.0 662.4 L270.1 663.0 L270.3 663.0 L270.4 663.3 L270.6 663.0 L270.7 663.5 L270.9 663.1 L271.1 663.3 L271.2 663.5 L271.4 664.4 L271.5 663.9 L271.7 663.9 L271.8 664.0 L272.0 664.6 L272.2 664.4 L272.3 664.7 L272.5 664.7 L272.6 664.3 L272.8 665.0 L272.9 664.8 L273.1 664.6 L273.3 665.2 L273.4 665.1 L273.6 665.2 L273.7 665.3 L273.9 665.8 L274.0 665.4 L274.2 665.1 L274.4 666.1 L274.5 665.4 L274.7 665.7 L274.8 666.1 L275.0 665.3 L275.1 665.7 L275.3 666.4 L275.4 666.1 L275.6 666.0 L275.8 666.3 L275.9 666.1 L276.1 666.4 L276.2 666.2 L276.4 666.0 L276.5 666.7 L276.7 666.5 L276.9 666.8 L277.0 666.6 L277.2 667.1 L277.3 667.0 L277.5 666.9 L277.6 666.6 L277.8 666.5 L278.0 667.4 L278.1 667.2 L278.3 666.8 L278.4 667.7 L278.6 667.3 L278.7 667.2 L278.9 666.8 L279.1 667.0 L279.2 667.4 L279.4 667.4 L279.5 667.4 L279.7 666.8 L279.8 667.5 L280.0 667.5 L280.2 667.3 L280.3 667.5 L280.5 667.5 L280.6 667.9 L280.8 667.5 L280.9 667.7 L281.1 667.2 L281.3 667.4 L281.4 667.6 L281.6 667.4 L281.7 667.8 L281.9 667.3 L282.0 667.7 L282.2 667.5 L282.3 668.2 L282.5 667.6 L282.7 668.3 L282.8 668.5 L283.0 667.9 L283.1 668.1 L283.3 667.8 L283.4 667.1 L283.6 668.1 L283.8 668.1 L283.9 667.8 L284.1 667.8 L284.2 668.0 L284.4 668.0 L284.5 667.7 L284.7 667.8 L284.9 668.3 L285.0 668.0 L285.2 668.0 L285.3 668.4 L285.5 667.9 L285.6 668.3 L285.8 667.7 L286.0 668.0 L286.1 668.0 L286.3 668.3 L286.4 668.1 L286.6 668.7 L286.7 668.5 L286.9 668.0 L287.1 668.8 L287.2 667.8 L287.4 668.6 L287.5 667.8 L287.7 668.3 L287.8 667.8 L288.0 668.0 L288.1 668.5 L288.3 667.6 L288.5 667.5 L288.6 667.9 L288.8 668.0 L288.9 667.9 L289.1 668.2 L289.2 667.5 L289.4 668.0 L289.6 667.8 L289.7 668.0 L289.9 667.9 L290.0 668.1 L290.2 667.3 L290.3 667.7 L290.5 667.3 L290.7 667.6 L290.8 667.8 L291.0 667.7 L291.1 667.7 L291.3 667.5 L291.4 667.6 L291.6 667.6 L291.8 667.9 L291.9 667.7 L292.1 666.9 L292.2 667.6 L292.4 667.7 L292.5 667.2 L292.7 666.9 L292.9 667.8 L293.0 667.3 L293.2 667.5 L293.3 667.8 L293.5 667.0 L293.6 667.2 L293.8 667.1 L294.0 667.4 L294.1 667.0 L294.3 667.2 L294.4 667.1 L294.6 667.4 L294.7 667.4 L294.9 666.5 L295.0 667.1 L295.2 666.8 L295.4 666.9 L295.5 667.0 L295.7 667.0 L295.8 666.6 L296.0 666.9 L296.1 666.8 L296.3 666.7 L296.5 666.3 L296.6 666.5 L296.8 666.6 L296.9 666.9 L297.1 667.2 L297.2 666.4 L297.4 666.4 L297.6 666.8 L297.7 498.5 L297.9 501.4 L298.0 503.5 L298.2 503.6 L298.3 498.2 L298.5 501.8 L298.7 513.4 L298.8 506.8 L299.0 509.1 L299.1 509.1 L299.3 505.4 L299.4 505.4 L299.6 515.1 L299.8 517.6 L299.9 511.9 L300.1 520.8 L300.2 520.8 L300.4 520.0 L300.5 526.4 L300.7 528.2 L300.9 518.2 L301.0 519.7 L301.2 522.6 L301.3 523.6 L301.5 526.3 L301.6 524.4 L301.8 519.2 L301.9 522.5 L302.1 527.3 L302.3 522.7 L302.4 525.4 L302.6 524.5 L302.7 528.2 L302.9 528.5 L303.0 528.4 L303.2 525.7 L303.4 520.9 L303.5 523.8 L303.7 520.6 L303.8 522.3 L304.0 518.2 L304.1 530.3 L304.3 529.5 L304.5 529.6 L304.6 528.1 L304.8 533.2 L304.9 532.9 L305.1 521.1 L305.2 527.1 L305.4 527.3 L305.6 528.8 L305.7 524.5 L305.9 527.2 L306.0 533.0 L306.2 527.7 L306.3 534.2 L306.5 539.5 L306.7 530.2 L306.8 523.3 L307.0 528.8 L307.1 532.4 L307.3 530.1 L307.4 521.8 L307.6 523.6 L307.7 526.0 L307.9 528.4 L308.1 526.8 L308.2 523.9 L308.4 522.7 L308.5 530.0 L308.7 530.7 L308.8 525.9 L309.0 533.6 L309.2 525.5 L309.3 535.6 L309.5 528.5 L309.6 527.3 L309.8 534.4 L309.9 522.7 L310.1 525.5 L310.3 532.9 L310.4 528.5 L310.6 529.8 L310.7 540.4 L310.9 531.4 L311.0 533.4 L311.2 532.1 L311.4 534.9 L311.5 532.7 L311.7 530.9 L311.8 526.8 L312.0 532.1 L312.1 530.6 L312.3 525.8 L312.5 530.8 L312.6 530.0 L312.8 535.7 L312.9 523.4 L313.1 528.3 L313.2 529.4 L313.4 528.5 L313.6 529.6 L313.7 528.4 L313.9 532.1 L314.0 531.9 L314.2 531.7 L314.3 525.5 L314.5 528.7 L314.6 530.9 L314.8 534.9 L315.0 535.5 L315.1 527.8 L315.3 533.8 L315.4 533.5 L315.6 541.0 L315.7 537.8 L315.9 533.3 L316.1 530.9 L316.2 538.0 L316.4 535.3 L316.5 535.0 L316.7 533.9 L316.8 538.0 L317.0 534.6 L317.2 535.4 L317.3 529.5 L317.5 537.6 L317.6 534.1 L317.8 529.2 L317.9 535.0 L318.1 534.4 L318.3 529.5 L318.4 532.3 L318.6 539.9 L318.7 528.4 L318.9 524.1 L319.0 534.2 L319.2 535.3 L319.4 542.2 L319.5 535.3 L319.7 538.2 L319.8 537.7 L320.0 529.3 L320.1 538.4 L320.3 530.8 L320.5 531.4 L320.6 533.8 L320.8 533.6 L320.9 529.1 L321.1 534.8 L321.2 537.2 L321.4 561.3 L321.5 596.4 L321.7 614.3 L321.9 624.2 L322.0 628.8 L322.2 631.6 L322.3 633.4 L322.5 635.6 L322.6 636.1 L322.8 636.7 L323.0 637.9 L323.1 638.4 L323.3 637.8 L323.4 639.3 L323.6 639.5 L323.7 640.6 L323.9 640.8 L324.1 642.1 L324.2 641.7 L324.4 641.5 L324.5 641.5 L324.7 642.3 L324.8 642.9 L325.0 643.5 L325.2 644.2 L325.3 644.2 L325.5 644.2 L325.6 645.1 L325.8 644.6 L325.9 645.8 L326.1 646.4 L326.3 646.2 L326.4 646.8 L326.6 646.9 L326.7 645.9 L326.9 646.7 L327.0 646.7 L327.2 646.4 L327.3 646.5 L327.5 647.5 L327.7 646.8 L327.8 647.4 L328.0 647.8 L328.1 647.7 L328.3 648.7 L328.4 648.5 L328.6 648.3 L328.8 648.1 L328.9 648.7 L329.1 648.7 L329.2 648.2 L329.4 648.1 L329.5 648.5 L329.7 648.4 L329.9 649.3 L330.0 649.3 L330.2 649.1 L330.3 649.4 L330.5 649.6 L330.6 648.6 L330.8 649.6 L331.0 650.0 L331.1 649.4 L331.3 648.8 L331.4 649.7 L331.6 649.2 L331.7 650.1 L331.9 650.1 L332.1 650.3 L332.2 650.0 L332.4 649.1 L332.5 650.6 L332.7 649.3 L332.8 650.6 L333.0 650.3 L333.2 649.8 L333.3 649.9 L333.5 650.1 L333.6 651.1 L333.8 650.1 L333.9 650.8 L334.1 649.1 L334.2 650.5 L334.4 650.3 L334.6 651.0 L334.7 650.7 L334.9 651.1 L335.0 650.0 L335.2 650.7 L335.3 650.3 L335.5 650.9 L335.7 650.8 L335.8 650.0 L336.0 651.1 L336.1 651.5 L336.3 650.4 L336.4 651.2 L336.6 650.9 L336.8 650.2 L336.9 651.1 L337.1 650.3 L337.2 651.0 L337.4 650.0 L337.5 650.1 L337.7 651.0 L337.9 650.8 L338.0 651.2 L338.2 650.7 L338.3 650.2 L338.5 651.5 L338.6 650.3 L338.8 651.4 L339.0 651.2 L339.1 651.7 L339.3 649.8 L339.4 650.8 L339.6 650.7 L339.7 651.1 L339.9 650.3 L340.1 651.9 L340.2 650.8 L340.4 649.8 L340.5 651.0 L340.7 650.8 L340.8 650.5 L341.0 651.2 L341.1 650.8 L341.3 650.4 L341.5 650.8 L341.6 650.7 L341.8 651.0 L341.9 650.7 L342.1 650.8 L342.2 650.2 L342.4 650.5 L342.6 651.0 L342.7 652.1 L342.9 650.5 L343.0 650.5 L343.2 651.3 L343.3 651.9 L343.5 651.4 L343.7 650.4 L343.8 651.4 L344.0 651.1 L344.1 650.8 L344.3 545.5 L344.4 543.8 L344.6 553.7 L344.8 534.2 L344.9 538.6 L345.1 543.4 L345.2 544.9 L345.4 539.4 L345.5 536.9 L345.7 541.7 L345.9 538.0 L346.0 541.5 L346.2 536.4 L346.3 539.0 L346.5 537.5 L346.6 531.5 L346.8 526.7 L346.9 541.6 L347.1 539.8 L347.3 541.4 L347.4 533.1 L347.6 538.6 L347.7 534.1 L347.9 530.9 L348.0 535.0 L348.2 535.8 L348.4 532.9 L348.5 539.2 L348.7 536.7 L348.8 532.5 L349.0 530.8 L349.1 532.9 L349.3 539.8 L349.5 532.9 L349.6 527.9 L349.8 528.3 L349.9 530.6 L350.1 534.5 L350.2 527.3 L350.4 533.0 L350.6 532.3 L350.7 530.7 L350.9 520.0 L351.0 523.5 L351.2 522.4 L351.3 529.7 L351.5 525.4 L351.7 532.5 L351.8 529.9 L352.0 519.1 L352.1 528.4 L352.3 533.8 L352.4 534.6 L352.6 532.2 L352.8 527.6 L352.9 535.0 L353.1 538.0 L353.2 532.3 L353.4 531.9 L353.5 519.0 L353.7 528.9 L353.8 535.4 L354.0 533.1 L354.2 537.4 L354.3 529.6 L354.5 522.0 L354.6 527.9 L354.8 531.5 L354.9 531.3 L355.1 525.7 L355.3 534.8 L355.4 530.2 L355.6 527.5 L355.7 526.4 L355.9 540.9 L356.0 531.4 L356.2 534.4 L356.4 532.3 L356.5 532.5 L356.7 535.6 L356.8 533.1 L357.0 530.9 L357.1 537.5 L357.3 537.0 L357.5 532.3 L357.6 539.5 L357.8 537.0 L357.9 541.7 L358.1 529.6 L358.2 523.6 L358.4 524.6 L358.6 534.9 L358.7 534.2 L358.9 537.0 L359.0 537.0 L359.2 531.1 L359.3 541.5 L359.5 532.2 L359.7 536.3 L359.8 531.0 L360.0 538.6 L360.1 543.8 L360.3 543.7 L360.4 538.4 L360.6 540.3 L360.7 537.4 L360.9 537.3 L361.1 553.1 L361.2 531.8 L361.4 532.3 L361.5 535.3 L361.7 537.7 L361.8 533.7 L362.0 540.8 L362.2 544.8 L362.3 544.3 L362.5 536.4 L362.6 548.0 L362.8 536.2 L362.9 545.4 L363.1 544.6 L363.3 533.7 L363.4 539.1 L363.6 542.6 L363.7 541.2 L363.9 536.3 L364.0 535.8 L364.2 543.5 L364.4 537.6 L364.5 537.4 L364.7 542.8 L364.8 538.1 L365.0 548.7 L365.1 541.3 L365.3 538.4 L365.5 534.5 L365.6 536.6 L365.8 538.0 L365.9 536.9 L366.1 532.3 L366.2 534.2 L366.4 532.0 L366.5 533.9 L366.7 537.5 L366.9 531.5 L367.0 543.0 L367.2 538.5 L367.3 602.1 L367.5 634.6 L367.6 651.5 L367.8 659.1 L368.0 663.8 L368.1 666.7 L368.3 668.6 L368.4 669.0 L368.6 668.8 L368.7 669.6 L368.9 669.0 L369.1 669.4 L369.2 669.6 L369.4 669.5 L369.5 669.7 L369.7 670.4 L369.8 670.2 L370.0 669.0 L370.2 670.8 L370.3 670.5 L370.5 669.9 L370.6 670.5 L370.8 670.9 L370.9 671.2 L371.1 670.4 L371.3 670.2 L371.4 670.1 L371.6 670.8 L371.7 670.4 L371.9 671.4 L372.0 670.9 L372.2 671.4 L372.4 671.0 L372.5 670.8 L372.7 670.7 L372.8 671.7 L373.0 670.7 L373.1 671.6 L373.3 671.9 L373.4 671.5 L373.6 672.2 L373.8 671.5 L373.9 671.4 L374.1 671.7 L374.2 671.4 L374.4 671.9 L374.5 671.7 L374.7 672.5 L374.9 671.8 L375.0 672.3 L375.2 672.1 L375.3 672.0 L375.5 671.9 L375.6 672.8 L375.8 672.8 L376.0 672.2 L376.1 671.8 L376.3 671.9 L376.4 671.7 L376.6 671.5 L376.7 671.9 L376.9 672.2 L377.1 672.7 L377.2 672.7 L377.4 672.5 L377.5 672.2 L377.7 672.2 L377.8 672.3 L378.0 672.4 L378.2 672.1 L378.3 672.3 L378.5 672.3 L378.6 672.3 L378.8 672.7 L378.9 673.0 L379.1 672.3 L379.3 672.3 L379.4 672.7 L379.6 672.8 L379.7 671.5 L379.9 673.0 L380.0 672.7 L380.2 672.5 L380.3 673.2 L380.5 672.6 L380.7 671.8 L380.8 672.2 L381.0 672.4 L381.1 672.4 L381.3 672.7 L381.4 672.3 L381.6 672.8 L381.8 673.0 L381.9 672.7 L382.1 672.3 L382.2 672.6 L382.4 672.5 L382.5 673.8 L382.7 672.2 L382.9 671.7 L383.0 672.2 L383.2 673.0 L383.3 673.3 L383.5 672.7 L383.6 673.4 L383.8 672.5 L384.0 673.2 L384.1 672.4 L384.3 672.3 L384.4 673.9 L384.6 672.8 L384.7 673.3 L384.9 673.6 L385.1 673.3 L385.2 673.1 L385.4 672.5 L385.5 673.7 L385.7 672.5 L385.8 672.0 L386.0 672.7 L386.1 672.7 L386.3 673.0 L386.5 673.6 L386.6 672.8 L386.8 672.8 L386.9 672.7 L387.1 671.8 L387.2 672.7 L387.4 672.8 L387.6 672.3 L387.7 673.7 L387.9 673.6 L388.0 673.2 L388.2 673.4 L388.3 672.7 L388.5 673.2 L388.7 672.2 L388.8 672.3 L389.0 672.7 L389.1 673.3 L389.3 672.8 L389.4 672.7 L389.6 673.6 L389.8 672.9 L389.9 672.8 L390.1 673.0 L390.2 672.4 L390.4 672.5 L390.5 673.5 L390.7 673.1 L390.9 673.5 L391.0 672.8 L391.2 673.6 L391.3 672.7 L391.5 672.9 L391.6 550.4 L391.8 557.6 L392.0 554.6 L392.1 552.5 L392.3 545.8 L392.4 545.7 L392.6 550.4 L392.7 548.2 L392.9 557.8 L393.0 556.5 L393.2 550.4 L393.4 559.2 L393.5 555.0 L393.7 561.7 L393.8 557.4 L394.0 558.4 L394.1 559.2 L394.3 556.3 L394.5 561.4 L394.6 564.3 L394.8 563.9 L394.9 550.6 L395.1 557.7 L395.2 556.4 L395.4 565.0 L395.6 560.1 L395.7 563.0 L395.9 558.7 L396.0 558.4 L396.2 555.3 L396.3 554.1 L396.5 558.9 L396.7 555.9 L396.8 562.7 L397.0 558.3 L397.1 561.9 L397.3 558.4 L397.4 564.1 L397.6 558.9 L397.8 558.5 L397.9 570.2 L398.1 566.6 L398.2 567.8 L398.4 560.5 L398.5 555.9 L398.7 560.0 L398.9 565.2 L399.0 564.1 L399.2 569.3 L399.3 554.5 L399.5 565.8 L399.6 575.9 L399.8 548.3 L399.9 561.4 L400.1 565.9 L400.3 558.8 L400.4 562.9 L400.6 561.0 L400.7 567.3 L400.9 563.8 L401.0 561.0 L401.2 562.9 L401.4 560.1 L401.5 568.1 L401.7 556.1 L401.8 570.1 L402.0 564.0 L402.1 573.7 L402.3 569.5 L402.5 556.3 L402.6 568.0 L402.8 560.1 L402.9 560.9 L403.1 565.5 L403.2 562.3 L403.4 563.4 L403.6 566.6 L403.7 561.2 L403.9 559.8 L404.0 566.4 L404.2 567.0 L404.3 560.6 L404.5 564.2 L404.7 557.9 L404.8 551.6 L405.0 562.4 L405.1 566.5 L405.3 564.7 L405.4 567.0 L405.6 562.1 L405.7 567.5 L405.9 567.8 L406.1 566.7 L406.2 560.5 L406.4 562.5 L406.5 565.7 L406.7 564.8 L406.8 551.9 L407.0 558.9 L407.2 555.3 L407.3 561.9 L407.5 559.2 L407.6 568.3 L407.8 564.9 L407.9 554.7 L408.1 572.9 L408.3 562.4 L408.4 557.7 L408.6 565.0 L408.7 562.5 L408.9 561.3 L409.0 571.0 L409.2 565.5 L409.4 571.8 L409.5 569.9 L409.7 569.3 L409.8 568.6 L410.0 567.6 L410.1 564.2 L410.3 573.6 L410.5 558.5 L410.6 557.7 L410.8 561.8 L410.9 564.6 L411.1 567.2 L411.2 567.6 L411.4 569.4 L411.6 580.7 L411.7 568.1 L411.9 558.6 L412.0 576.9 L412.2 566.0 L412.3 567.9 L412.5 571.4 L412.6 565.5 L412.8 575.3 L413.0 566.7 L413.1 565.2 L413.3 573.4 L413.4 576.1 L413.6 569.4 L413.7 569.6 L413.9 560.4 L414.1 572.9 L414.2 566.6 L414.4 576.7 L414.5 569.2 L414.7 567.7 L414.8 618.5 L415.0 645.2 L415.2 657.2 L415.3 665.4 L415.5 668.5 L415.6 671.2 L415.8 672.4 L415.9 672.7 L416.1 674.1 L416.3 674.1 L416.4 675.9 L416.6 675.2 L416.7 676.1 L416.9 676.4 L417.0 676.7 L417.2 676.8 L417.4 676.5 L417.5 678.5 L417.7 677.9 L417.8 678.6 L418.0 677.9 L418.1 679.0 L418.3 678.8 L418.5 679.5 L418.6 679.2 L418.8 679.3 L418.9 680.2 L419.1 680.3 L419.2 681.2 L419.4 680.6 L419.5 680.5 L419.7 681.4 L419.9 680.8 L420.0 682.5 L420.2 682.6 L420.3 682.6 L420.5 682.3 L420.6 682.3 L420.8 682.5 L421.0 682.6 L421.1 682.4 L421.3 683.1 L421.4 683.7 L421.6 683.8 L421.7 682.3 L421.9 684.6 L422.1 683.7 L422.2 683.0 L422.4 683.6 L422.5 684.4 L422.7 684.1 L422.8 683.8 L423.0 683.8 L423.2 684.9 L423.3 684.2 L423.5 684.6 L423.6 684.2 L423.8 684.2 L423.9 685.1 L424.1 685.8 L424.3 685.0 L424.4 684.4 L424.6 685.0 L424.7 685.3 L424.9 684.3 L425.0 686.1 L425.2 685.2 L425.3 686.0 L425.5 685.8 L425.7 685.8 L425.8 685.2 L426.0 686.4 L426.1 686.3 L426.3 686.9 L426.4 685.9 L426.6 686.5 L426.8 686.1 L426.9 686.9 L427.1 686.6 L427.2 686.0 L427.4 686.6 L427.5 686.3 L427.7 686.3 L427.9 686.8 L428.0 687.5 L428.2 686.3 L428.3 686.7 L428.5 686.3 L428.6 687.8 L428.8 687.7 L429.0 688.0 L429.1 687.4 L429.3 686.5 L429.4 686.8 L429.6 687.1 L429.7 687.1 L429.9 686.8 L430.1 687.3 L430.2 687.0 L430.4 687.2 L430.5 688.3 L430.7 687.5 L430.8 686.7 L431.0 687.5 L431.2 687.4 L431.3 687.7 L431.5 687.7 L431.6 686.9 L431.8 687.6 L431.9 688.0 L432.1 689.0 L432.2 687.8 L432.4 688.5 L432.6 688.5 L432.7 687.2 L432.9 687.3 L433.0 688.6 L433.2 687.2 L433.3 687.4 L433.5 688.1 L433.7 687.3 L433.8 688.5 L434.0 688.3 L434.1 688.4 L434.3 688.3 L434.4 687.4 L434.6 688.4 L434.8 688.4 L434.9 688.3 L435.1 687.7 L435.2 688.0 L435.4 687.4 L435.5 688.2 L435.7 688.5 L435.9 688.1 L436.0 687.9 L436.2 688.4 L436.3 687.8 L436.5 687.1 L436.6 688.2 L436.8 687.9 L437.0 687.3 L437.1 688.3 L437.3 688.4 L437.4 688.5 L437.6 687.8 L437.7 687.8 L437.9 688.1 L438.1 688.0 L438.2 687.4 L438.4 687.6 L438.5 528.4 L438.7 545.4 L438.8 546.0 L439.0 583.8 L439.1 558.3 L439.3 560.7 L439.5 567.5 L439.6 566.0 L439.8 571.3 L439.9 559.4 L440.1 558.3 L440.2 561.4 L440.4 572.2 L440.6 567.9 L440.7 561.2 L440.9 559.6 L441.0 566.9 L441.2 561.4 L441.3 569.6 L441.5 568.1 L441.7 566.8 L441.8 566.7 L442.0 575.1 L442.1 558.8 L442.3 555.8 L442.4 567.0 L442.6 570.5 L442.8 566.7 L442.9 574.7 L443.1 581.7 L443.2 565.1 L443.4 566.4 L443.5 568.0 L443.7 556.4 L443.9 563.1 L444.0 568.5 L444.2 546.9 L444.3 570.8 L444.5 570.2 L444.6 565.2 L444.8 570.8 L444.9 571.2 L445.1 564.0 L445.3 566.0 L445.4 561.3 L445.6 562.2 L445.7 559.2 L445.9 554.9 L446.0 567.0 L446.2 557.0 L446.4 572.3 L446.5 570.2 L446.7 571.6 L446.8 568.8 L447.0 563.9 L447.1 558.0 L447.3 571.7 L447.5 565.8 L447.6 566.9 L447.8 569.0 L447.9 569.9 L448.1 563.2 L448.2 575.8 L448.4 565.2 L448.6 563.2 L448.7 566.1 L448.9 563.8 L449.0 569.5 L449.2 557.0 L449.3 575.0 L449.5 563.2 L449.7 564.7 L449.8 570.3 L450.0 573.3 L450.1 564.5 L450.3 562.7 L450.4 574.5 L450.6 572.2 L450.8 564.1 L450.9 564.9 L451.1 558.6 L451.2 571.6 L451.4 566.4 L451.5 576.0 L451.7 555.4 L451.8 567.3 L452.0 574.4 L452.2 566.5 L452.3 568.0 L452.5 559.8 L452.6 567.9 L452.8 563.8 L452.9 562.3 L453.1 555.4 L453.3 564.4 L453.4 558.9 L453.6 563.0 L453.7 566.3 L453.9 566.1 L454.0 569.5 L454.2 572.5 L454.4 564.1 L454.5 577.6 L454.7 566.4 L454.8 568.9 L455.0 571.8 L455.1 571.1 L455.3 565.5 L455.5 559.3 L455.6 560.7 L455.8 565.7 L455.9 562.9 L456.1 589.7 L456.2 570.3 L456.4 578.9 L456.6 568.4 L456.7 578.1 L456.9 572.4 L457.0 565.2 L457.2 565.8 L457.3 581.4 L457.5 568.5 L457.7 575.3 L457.8 564.7 L458.0 558.8 L458.1 573.5 L458.3 569.9 L458.4 555.7 L458.6 564.9 L458.7 565.3 L458.9 563.7 L459.1 576.2 L459.2 565.4 L459.4 575.9 L459.5 568.1 L459.7 564.4 L459.8 566.6 L460.0 575.6 L460.2 572.1 L460.3 570.7 L460.5 578.1 L460.6 561.3 L460.8 575.9 L460.9 567.3 L461.1 566.2 L461.3 568.7 L461.4 568.7 L461.6 571.3 L461.7 594.6 L461.9 613.1 L462.0 627.3 L462.2 639.0 L462.4 647.9 L462.5 654.6 L462.7 660.4 L462.8 663.6 L463.0 667.0 L463.1 668.9 L463.3 671.4 L463.5 672.6 L463.6 673.9 L463.8 674.7 L463.9 674.5 L464.1 675.5 L464.2 675.4 L464.4 676.3 L464.5 675.9 L464.7 676.9 L464.9 676.3 L465.0 676.4 L465.2 675.8 L465.3 676.0 L465.5 676.1 L465.6 675.6 L465.8 675.8 L466.0 675.6 L466.1 675.4 L466.3 675.8 L466.4 675.8 L466.6 675.4 L466.7 675.7 L466.9 675.2 L467.1 674.8 L467.2 674.9 L467.4 675.4 L467.5 675.8 L467.7 675.1 L467.8 675.1 L468.0 674.4 L468.2 675.1 L468.3 674.9 L468.5 674.4 L468.6 674.9 L468.8 674.7 L468.9 673.7 L469.1 673.8 L469.3 674.2 L469.4 674.3 L469.6 674.8 L469.7 674.0 L469.9 674.2 L470.0 674.1 L470.2 674.4 L470.4 674.1 L470.5 674.2 L470.7 673.9 L470.8 673.3 L471.0 673.8 L471.1 674.7 L471.3 674.3 L471.4 674.6 L471.6 674.2 L471.8 673.5 L471.9 673.5 L472.1 674.0 L472.2 673.5 L472.4 674.0 L472.5 674.3 L472.7 674.2 L472.9 673.9 L473.0 672.8 L473.2 674.1 L473.3 672.8 L473.5 672.7 L473.6 673.4 L473.8 673.4 L474.0 673.6 L474.1 673.3 L474.3 672.9 L474.4 673.2 L474.6 672.7 L474.7 672.6 L474.9 673.0 L475.1 673.0 L475.2 673.1 L475.4 672.9 L475.5 673.6 L475.7 672.9 L475.8 672.9 L476.0 673.4 L476.2 672.0 L476.3 673.5 L476.5 673.4 L476.6 672.8 L476.8 673.9 L476.9 673.3 L477.1 673.6 L477.3 673.4 L477.4 672.9 L477.6 672.7 L477.7 672.3 L477.9 672.4 L478.0 672.2 L478.2 672.5 L478.3 673.0 L478.5 672.2 L478.7 673.0 L478.8 673.0 L479.0 672.0 L479.1 672.3 L479.3 672.6 L479.4 672.3 L479.6 672.3 L479.8 673.3 L479.9 672.7 L480.1 673.2 L480.2 672.6 L480.4 673.0 L480.5 672.0 L480.7 672.4 L480.9 673.0 L481.0 672.6 L481.2 673.2 L481.3 672.6 L481.5 672.3 L481.6 672.4 L481.8 673.5 L482.0 672.7 L482.1 672.3 L482.3 672.4 L482.4 672.0 L482.6 673.2 L482.7 672.3 L482.9 672.8 L483.1 672.4 L483.2 672.3 L483.4 672.2 L483.5 672.8 L483.7 672.4 L483.8 673.1 L484.0 673.2 L484.1 672.2 L484.3 672.5 L484.5 673.3 L484.6 672.9 L484.8 672.4 L484.9 557.4 L485.1 575.4 L485.2 567.7 L485.4 563.7 L485.6 578.7 L485.7 558.2 L485.9 564.6 L486.0 566.3 L486.2 557.0 L486.3 556.0 L486.5 557.5 L486.7 561.9 L486.8 559.0 L487.0 559.6 L487.1 551.1 L487.3 564.5 L487.4 557.0 L487.6 556.3 L487.8 560.8 L487.9 555.4 L488.1 555.3 L488.2 558.6 L488.4 557.2 L488.5 564.3 L488.7 560.1 L488.9 558.2 L489.0 558.8 L489.2 557.5 L489.3 564.9 L489.5 567.4 L489.6 559.1 L489.8 558.8 L490.0 549.9 L490.1 556.3 L490.3 562.2 L490.4 555.4 L490.6 561.7 L490.7 564.6 L490.9 548.3 L491.0 558.8 L491.2 560.8 L491.4 560.9 L491.5 554.7 L491.7 561.3 L491.8 556.4 L492.0 564.2 L492.1 565.9 L492.3 552.5 L492.5 552.3 L492.6 557.4 L492.8 558.6 L492.9 560.6 L493.1 564.2 L493.2 553.9 L493.4 557.0 L493.6 558.2 L493.7 560.7 L493.9 560.4 L494.0 565.5 L494.2 563.4 L494.3 567.9 L494.5 559.5 L494.7 552.1 L494.8 563.1 L495.0 563.2 L495.1 558.8 L495.3 558.5 L495.4 557.1 L495.6 564.6 L495.8 556.6 L495.9 564.1 L496.1 565.9 L496.2 562.8 L496.4 566.3 L496.5 561.3 L496.7 550.1 L496.9 558.7 L497.0 567.9 L497.2 566.5 L497.3 567.7 L497.5 569.0 L497.6 566.2 L497.8 565.8 L497.9 563.4 L498.1 560.3 L498.3 563.1 L498.4 566.1 L498.6 578.9 L498.7 562.3 L498.9 563.4 L499.0 557.9 L499.2 555.4 L499.4 559.0 L499.5 556.0 L499.7 566.8 L499.8 552.1 L500.0 556.4 L500.1 561.5 L500.3 565.3 L500.5 558.5 L500.6 568.4 L500.8 563.8 L500.9 558.1 L501.1 558.7 L501.2 561.2 L501.4 555.7 L501.6 561.5 L501.7 556.7 L501.9 560.4 L502.0 561.3 L502.2 558.5 L502.3 566.5 L502.5 556.7 L502.7 566.4 L502.8 556.4 L503.0 568.0 L503.1 545.9 L503.3 569.2 L503.4 568.0 L503.6 562.1 L503.7 558.4 L503.9 563.6 L504.1 552.7 L504.2 560.3 L504.4 557.8 L504.5 557.9 L504.7 557.2 L504.8 568.7 L505.0 553.8 L505.2 572.0 L505.3 563.2 L505.5 564.8 L505.6 571.1 L505.8 567.4 L505.9 558.7 L506.1 564.7 L506.3 568.2 L506.4 563.2 L506.6 558.1 L506.7 565.0 L506.9 564.6 L507.0 560.0 L507.2 558.0 L507.4 561.8 L507.5 581.2 L507.7 564.2 L507.8 564.4 L508.0 558.9 L508.1 559.0 L508.3 560.2 L508.5 603.4 L508.6 627.8 L508.8 642.7 L508.9 649.7 L509.1 653.8 L509.2 656.3 L509.4 657.7 L509.6 658.9 L509.7 658.4 L509.9 658.8 L510.0 659.7 L510.2 660.3 L510.3 658.9 L510.5 660.2 L510.6 659.4 L510.8 659.1 L511.0 660.5 L511.1 660.0 L511.3 660.3 L511.4 659.9 L511.6 660.1 L511.7 659.3 L511.9 660.0 L512.1 660.3 L512.2 659.8 L512.4 660.5 L512.5 660.6 L512.7 659.3 L512.8 660.9 L513.0 660.7 L513.2 660.5 L513.3 661.1 L513.5 661.6 L513.6 660.1 L513.8 661.0 L513.9 661.0 L514.1 660.9 L514.3 661.2 L514.4 661.3 L514.6 660.7 L514.7 659.7 L514.9 660.5 L515.0 660.6 L515.2 661.7 L515.4 661.0 L515.5 661.6 L515.7 660.7 L515.8 661.2 L516.0 661.1 L516.1 661.2 L516.3 661.5 L516.5 661.9 L516.6 661.0 L516.8 661.9 L516.9 661.9 L517.1 661.5 L517.2 661.7 L517.4 661.3 L517.5 660.9 L517.7 661.3 L517.9 661.4 L518.0 661.5 L518.2 661.1 L518.3 662.5 L518.5 661.5 L518.6 662.1 L518.8 662.3 L519.0 661.7 L519.1 661.9 L519.3 661.5 L519.4 661.3 L519.6 663.0 L519.7 661.9 L519.9 661.0 L520.1 661.5 L520.2 661.3 L520.4 662.0 L520.5 662.7 L520.7 662.6 L520.8 661.8 L521.0 661.7 L521.2 662.5 L521.3 662.3 L521.5 662.1 L521.6 663.1 L521.8 662.5 L521.9 661.6 L522.1 661.3 L522.3 662.5 L522.4 661.5 L522.6 662.7 L522.7 662.9 L522.9 663.6 L523.0 662.1 L523.2 662.8 L523.3 661.5 L523.5 662.5 L523.7 662.6 L523.8 663.6 L524.0 662.0 L524.1 663.0 L524.3 662.9 L524.4 663.9 L524.6 662.4 L524.8 662.4 L524.9 663.2 L525.1 662.9 L525.2 662.8 L525.4 662.6 L525.5 663.0 L525.7 662.3 L525.9 663.3 L526.0 663.5 L526.2 663.4 L526.3 664.5 L526.5 663.7 L526.6 662.8 L526.8 663.2 L527.0 663.8 L527.1 663.2 L527.3 664.4 L527.4 663.6 L527.6 663.2 L527.7 663.2 L527.9 663.9 L528.1 663.2 L528.2 662.7 L528.4 663.9 L528.5 663.3 L528.7 664.5 L528.8 664.7 L529.0 663.5 L529.2 663.8 L529.3 663.8 L529.5 664.2 L529.6 664.1 L529.8 663.6 L529.9 663.2 L530.1 664.1 L530.2 664.9 L530.4 663.5 L530.6 663.8 L530.7 663.8 L530.9 664.1 L531.0 663.1 L531.2 664.2 L531.3 664.0 L531.5 665.2 L531.7 664.6 L531.8 541.3 L532.0 536.1 L532.1 540.1 L532.3 541.2 L532.4 538.5 L532.6 532.4 L532.8 537.3 L532.9 541.9 L533.1 549.2 L533.2 545.4 L533.4 549.7 L533.5 543.9 L533.7 545.0 L533.9 559.3 L534.0 547.8 L534.2 545.4 L534.3 547.3 L534.5 551.4 L534.6 539.3 L534.8 548.4 L535.0 550.5 L535.1 551.5 L535.3 546.8 L535.4 542.1 L535.6 542.5 L535.7 546.0 L535.9 552.9 L536.1 553.1 L536.2 554.2 L536.4 553.1 L536.5 561.1 L536.7 551.4 L536.8 550.9 L537.0 555.5 L537.1 551.8 L537.3 558.1 L537.5 559.2 L537.6 553.4 L537.8 549.8 L537.9 549.1 L538.1 556.1 L538.2 547.2 L538.4 551.0 L538.6 541.7 L538.7 548.3 L538.9 553.7 L539.0 548.4 L539.2 553.1 L539.3 553.6 L539.5 555.5 L539.7 548.4 L539.8 554.4 L540.0 553.0 L540.1 557.0 L540.3 548.0 L540.4 556.8 L540.6 561.5 L540.8 546.5 L540.9 548.0 L541.1 553.0 L541.2 562.0 L541.4 577.4 L541.5 552.1 L541.7 555.1 L541.9 545.7 L542.0 560.5 L542.2 551.4 L542.3 557.2 L542.5 547.3 L542.6 553.5 L542.8 548.7 L542.9 556.5 L543.1 563.0 L543.3 559.0 L543.4 552.8 L543.6 557.7 L543.7 546.4 L543.9 544.9 L544.0 547.9 L544.2 557.3 L544.4 553.1 L544.5 555.3 L544.7 546.9 L544.8 551.3 L545.0 548.6 L545.1 556.0 L545.3 563.6 L545.5 555.6 L545.6 557.6 L545.8 550.2 L545.9 550.7 L546.1 555.7 L546.2 553.3 L546.4 542.4 L546.6 553.7 L546.7 551.4 L546.9 547.3 L547.0 548.5 L547.2 548.3 L547.3 542.0 L547.5 534.7 L547.7 550.6 L547.8 539.9 L548.0 541.2 L548.1 543.2 L548.3 545.0 L548.4 547.0 L548.6 540.0 L548.8 549.2 L548.9 551.6 L549.1 551.1 L549.2 549.1 L549.4 546.8 L549.5 539.8 L549.7 543.8 L549.8 544.9 L550.0 546.7 L550.2 548.8 L550.3 550.8 L550.5 551.9 L550.6 549.4 L550.8 556.1 L550.9 559.5 L551.1 551.1 L551.3 546.2 L551.4 555.0 L551.6 538.9 L551.7 544.0 L551.9 544.2 L552.0 540.2 L552.2 554.5 L552.4 546.9 L552.5 534.5 L552.7 550.7 L552.8 546.5 L553.0 542.6 L553.1 549.5 L553.3 541.8 L553.5 539.9 L553.6 524.0 L553.8 551.6 L553.9 550.1 L554.1 546.5 L554.2 552.4 L554.4 555.0 L554.6 545.5 L554.7 547.5 L554.9 542.9 L555.0 541.3 L555.2 541.6 L555.3 552.0 L555.5 561.5 L555.7 568.1 L555.8 573.8 L556.0 577.0 L556.1 582.3 L556.3 585.7 L556.4 588.9 L556.6 593.1 L556.7 595.7 L556.9 599.0 L557.1 602.8 L557.2 605.0 L557.4 609.1 L557.5 612.2 L557.7 616.0 L557.8 619.5 L558.0 622.1 L558.2 625.0 L558.3 628.0 L558.5 630.4 L558.6 634.8 L558.8 637.1 L558.9 640.2 L559.1 641.4 L559.3 645.0 L559.4 647.6 L559.6 650.4 L559.7 651.8 L559.9 654.7 L560.0 656.6 L560.2 659.6 L560.4 659.6 L560.5 660.1 L560.7 660.1 L560.8 659.9 L561.0 660.7 L561.1 660.8 L561.3 660.5 L561.5 660.8 L561.6 661.2 L561.8 661.2 L561.9 661.5 L562.1 661.0 L562.2 661.0 L562.4 661.6 L562.5 660.7 L562.7 662.5 L562.9 661.9 L563.0 661.1 L563.2 662.2 L563.3 662.8 L563.5 661.5 L563.6 661.9 L563.8 662.9 L564.0 662.0 L564.1 662.9 L564.3 663.1 L564.4 662.6 L564.6 662.9 L564.7 663.2 L564.9 662.9 L565.1 663.3 L565.2 662.8 L565.4 662.9 L565.5 662.6 L565.7 663.3 L565.8 663.7 L566.0 663.8 L566.2 663.3 L566.3 662.5 L566.5 662.9 L566.6 663.6 L566.8 662.9 L566.9 664.0 L567.1 663.0 L567.3 663.7 L567.4 663.2 L567.6 663.3 L567.7 663.8 L567.9 663.5 L568.0 664.2 L568.2 663.8 L568.4 663.2 L568.5 661.8 L568.7 663.5 L568.8 663.8 L569.0 664.4 L569.1 663.4 L569.3 664.8 L569.4 664.4 L569.6 663.9 L569.8 664.6 L569.9 663.3 L570.1 663.6 L570.2 664.4 L570.4 664.4 L570.5 664.8 L570.7 664.9 L570.9 664.0 L571.0 664.0 L571.2 664.1 L571.3 664.2 L571.5 664.6 L571.6 664.2 L571.8 665.1 L572.0 664.4 L572.1 663.7 L572.3 663.8 L572.4 664.7 L572.6 664.6 L572.7 663.8 L572.9 663.6 L573.1 665.2 L573.2 664.7 L573.4 664.4 L573.5 664.0 L573.7 665.0 L573.8 664.3 L574.0 664.8 L574.2 663.5 L574.3 664.4 L574.5 664.7 L574.6 664.8 L574.8 664.2 L574.9 664.4 L575.1 665.2 L575.3 664.6 L575.4 665.4 L575.6 665.1 L575.7 665.4 L575.9 665.4 L576.0 665.1 L576.2 665.3 L576.3 664.5 L576.5 664.4 L576.7 664.9 L576.8 665.4 L577.0 664.4 L577.1 665.8 L577.3 665.8 L577.4 664.5 L577.6 664.5 L577.8 664.4 L577.9 665.0 L578.1 665.5 L578.2 665.1 L578.4 664.6 L578.5 665.3" fill="none" stroke="#f01018" stroke-width="1.3" stroke-linejoin="round"/>
</g>
<rect x="267.3" y="409.1" width="311.1" height="290.8" fill="none" stroke="#000" stroke-width="1.5"/>
<path d="M267.3 699.9h4.5M267.3 619.1h4.5M267.3 538.3h4.5M267.3 457.5h4.5" stroke="#000" stroke-width="1.2" fill="none"/>
<path d="M267.3 659.5h2.5M267.3 578.7h2.5M267.3 497.9h2.5M267.3 417.1h2.5" stroke="#000" stroke-width="1.2" fill="none"/>
<path d="M343.5 699.9v-4.5M421.9 699.9v-4.5M500.3 699.9v-4.5M578.7 699.9v-4.5" stroke="#000" stroke-width="1.2" fill="none"/>
<path d="M304.3 699.9v-2.5M382.7 699.9v-2.5M461.1 699.9v-2.5M539.5 699.9v-2.5" stroke="#000" stroke-width="1.2" fill="none"/>
<text transform="translate(261.8,705.3) scale(0.98,1)" font-size="17.0" text-anchor="end" style="font-family:'Liberation Sans',sans-serif;font-weight:normal" fill="#1a1a1a" stroke="#1a1a1a" stroke-width="0.3">0</text>
<text transform="translate(261.8,624.5) scale(0.98,1)" font-size="17.0" text-anchor="end" style="font-family:'Liberation Sans',sans-serif;font-weight:normal" fill="#1a1a1a" stroke="#1a1a1a" stroke-width="0.3">5</text>
<text transform="translate(261.8,543.7) scale(0.98,1)" font-size="17.0" text-anchor="end" style="font-family:'Liberation Sans',sans-serif;font-weight:normal" fill="#1a1a1a" stroke="#1a1a1a" stroke-width="0.3">10</text>
<text transform="translate(261.8,462.9) scale(0.98,1)" font-size="17.0" text-anchor="end" style="font-family:'Liberation Sans',sans-serif;font-weight:normal" fill="#1a1a1a" stroke="#1a1a1a" stroke-width="0.3">15</text>
<text transform="translate(343.2,718.8) scale(0.98,1)" font-size="17.0" text-anchor="middle" style="font-family:'Liberation Sans',sans-serif;font-weight:normal" fill="#1a1a1a" stroke="#1a1a1a" stroke-width="0.3">100</text>
<text transform="translate(421.6,718.8) scale(0.98,1)" font-size="17.0" text-anchor="middle" style="font-family:'Liberation Sans',sans-serif;font-weight:normal" fill="#1a1a1a" stroke="#1a1a1a" stroke-width="0.3">200</text>
<text transform="translate(500,718.8) scale(0.98,1)" font-size="17.0" text-anchor="middle" style="font-family:'Liberation Sans',sans-serif;font-weight:normal" fill="#1a1a1a" stroke="#1a1a1a" stroke-width="0.3">300</text>
<text transform="translate(578.4,718.8) scale(0.98,1)" font-size="17.0" text-anchor="middle" style="font-family:'Liberation Sans',sans-serif;font-weight:normal" fill="#1a1a1a" stroke="#1a1a1a" stroke-width="0.3">400</text>
<text transform="translate(431.8,736.6) scale(1.0,1)" font-size="19.7" text-anchor="middle" style="font-family:'Liberation Sans',sans-serif;font-weight:normal" fill="#1a1a1a" stroke="#1a1a1a" stroke-width="0.3">Time / s</text>
<text transform="translate(239.2,551) rotate(-90) scale(1.06,1)" font-size="18.8" text-anchor="middle" style="font-family:'Liberation Sans',sans-serif" fill="#1a1a1a" stroke="#1a1a1a" stroke-width="0.3">Current / nA cm<tspan font-size="11" dy="-10.5">-2</tspan></text>
<path d="M444 438.6H474.9" stroke="#e04050" stroke-width="1.1"/>
<path d="M444 460.7H474.9" stroke="#111" stroke-width="1"/>
<text transform="translate(479,443.9) scale(0.975,1)" font-size="14.2" text-anchor="start" style="font-family:'Liberation Sans',sans-serif;font-weight:normal" fill="#1a1a1a" stroke="#1a1a1a" stroke-width="0.3">3CoO<tspan font-size="8.6" dy="5.6">x</tspan><tspan dy="-5.6">/BiFeO</tspan><tspan font-size="8.6" dy="5.6">3</tspan></text>
<text transform="translate(479,465) scale(0.975,1)" font-size="14.2" text-anchor="start" style="font-family:'Liberation Sans',sans-serif;font-weight:normal" fill="#1a1a1a" stroke="#1a1a1a" stroke-width="0.3">BiFeO<tspan font-size="8.6" dy="5.8">3</tspan></text>
<path d="M431.8 430.6V455" stroke="#000" stroke-width="1.6"/>
<path d="M427.3 454L436.2 454L431.8 471Z" fill="#000"/>
<text transform="translate(303.4,494.2) scale(1.04,1)" font-size="13.3" text-anchor="start" style="font-family:'Liberation Sans',sans-serif;font-weight:normal" fill="#1a1a1a" stroke="#1a1a1a" stroke-width="0.3">vibration on</text>
<text transform="translate(380.3,510.6) scale(1.03,1)" font-size="13.3" text-anchor="start" style="font-family:'Liberation Sans',sans-serif;font-weight:normal" fill="#1a1a1a" stroke="#1a1a1a" stroke-width="0.3">vibration off</text>
<path d="M327.2 502.4L342.5 542.4M395.4 516.4L371.7 554.3" stroke="#222" stroke-width="1" fill="none"/>
<text transform="translate(178.3,396.9) scale(1.0,1)" font-size="30.5" text-anchor="start" style="font-family:'Liberation Serif',serif;font-weight:bold" fill="#000"><tspan font-size="28.5" dy="-1">(</tspan><tspan dy="1">c</tspan><tspan font-size="28.5" dy="-1" dx="2.2">)</tspan></text></svg>
</body></html>
